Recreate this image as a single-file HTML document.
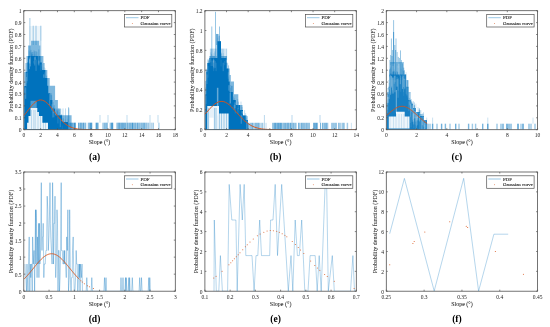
<!DOCTYPE html>
<html><head><meta charset="utf-8"><style>
html,body{margin:0;padding:0;background:#fff;width:550px;height:327px;overflow:hidden}
svg{display:block;filter:blur(0.3px)}
text{font-family:"Liberation Serif", serif}
.t{will-change:transform;filter:grayscale(1)}
</style></head><body>
<svg width="550" height="327" viewBox="0 0 550 327">
<defs><clipPath id="ca"><rect x="23.8" y="10.7" width="151.5" height="118.99999999999999"/></clipPath><clipPath id="cb"><rect x="204.9" y="10.7" width="151.4" height="118.99999999999999"/></clipPath><clipPath id="cc"><rect x="386.3" y="10.7" width="151.3" height="118.99999999999999"/></clipPath><clipPath id="cd"><rect x="23.8" y="172.0" width="151.5" height="119.19999999999999"/></clipPath><clipPath id="ce"><rect x="204.9" y="172.0" width="151.4" height="119.19999999999999"/></clipPath><clipPath id="cf"><rect x="386.3" y="172.0" width="151.3" height="119.19999999999999"/></clipPath></defs>
<rect width="550" height="327" fill="#fff"/>
<g clip-path="url(#ca)">
<rect x="29.40" y="26.00" width="12.20" height="14.70" fill="#0072bd" fill-opacity="0.07"/>
<line x1="29.90" y1="18.00" x2="29.90" y2="56.00" stroke="#0072bd" stroke-opacity="0.4" stroke-width="0.9"/>
<line x1="33.20" y1="25.70" x2="33.20" y2="45.00" stroke="#0072bd" stroke-opacity="0.4" stroke-width="0.9"/>
<line x1="36.00" y1="25.70" x2="36.00" y2="45.00" stroke="#0072bd" stroke-opacity="0.4" stroke-width="0.9"/>
<line x1="40.80" y1="25.70" x2="40.80" y2="63.00" stroke="#0072bd" stroke-opacity="0.4" stroke-width="0.9"/>
<path d="M24.30,129.70V72.00H25.50V63.00H26.50V56.00H28.10V45.60H30.90V40.70H39.30V45.60H40.30V56.00H43.40V63.00H44.60V70.00H47.30V78.00H49.70V85.70H55.10V100.00H57.90V108.40H60.60V115.30H71.60V129.70Z" fill="#0072bd" fill-opacity="0.5"/>
<path d="M24.30,129.70V86.00H25.80V72.00H27.40V62.60H28.10V56.00H40.30V62.60H42.00V70.00H45.40V78.00H47.30V85.70H48.30V93.30H50.30V100.00H52.40V108.40H55.10V115.30H62.00V122.10H68.00V129.70Z" fill="#0072bd" fill-opacity="1.0"/>
<line x1="51.00" y1="108.40" x2="51.00" y2="122.00" stroke="#0072bd" stroke-opacity="0.35" stroke-width="0.7"/>
<line x1="53.50" y1="108.40" x2="53.50" y2="122.00" stroke="#0072bd" stroke-opacity="0.35" stroke-width="0.7"/>
<line x1="56.00" y1="108.40" x2="56.00" y2="122.00" stroke="#0072bd" stroke-opacity="0.35" stroke-width="0.7"/>
<line x1="58.00" y1="108.40" x2="58.00" y2="122.00" stroke="#0072bd" stroke-opacity="0.35" stroke-width="0.7"/>
<line x1="63.00" y1="108.40" x2="63.00" y2="122.00" stroke="#0072bd" stroke-opacity="0.35" stroke-width="0.7"/>
<line x1="65.50" y1="108.40" x2="65.50" y2="122.00" stroke="#0072bd" stroke-opacity="0.35" stroke-width="0.7"/>
<line x1="68.90" y1="108.40" x2="68.90" y2="122.00" stroke="#0072bd" stroke-opacity="0.35" stroke-width="0.7"/>
<line x1="68.60" y1="107.30" x2="68.60" y2="122.70" stroke="#0072bd" stroke-opacity="0.45" stroke-width="0.9"/>
<rect x="68.00" y="122.70" width="0.62" height="7.00" fill="#0072bd" fill-opacity="0.7221146126479758"/>
<rect x="68.62" y="122.70" width="0.68" height="7.00" fill="#0072bd" fill-opacity="0.7519600192980972"/>
<rect x="69.30" y="122.70" width="0.81" height="7.00" fill="#0072bd" fill-opacity="0.4827644296199065"/>
<rect x="70.12" y="122.70" width="0.51" height="7.00" fill="#0072bd" fill-opacity="0.8687345410482299"/>
<rect x="70.62" y="122.70" width="0.63" height="7.00" fill="#0072bd" fill-opacity="0.5671654805233481"/>
<rect x="71.25" y="122.70" width="1.00" height="7.00" fill="#0072bd" fill-opacity="0.6851317537612239"/>
<rect x="72.25" y="122.70" width="0.92" height="7.00" fill="#0072bd" fill-opacity="0.6881766043496674"/>
<rect x="73.17" y="122.70" width="0.82" height="7.00" fill="#0072bd" fill-opacity="0.5253082120117619"/>
<rect x="73.99" y="122.70" width="0.82" height="7.00" fill="#0072bd" fill-opacity="0.8840226535716483"/>
<rect x="74.81" y="122.70" width="0.76" height="7.00" fill="#0072bd" fill-opacity="0.8206259281007451"/>
<rect x="75.57" y="122.70" width="0.43" height="7.00" fill="#0072bd" fill-opacity="0.4820157191134986"/>
<rect x="78.00" y="122.70" width="0.88" height="7.00" fill="#0072bd" fill-opacity="0.6455497914656587"/>
<rect x="78.88" y="122.70" width="0.65" height="7.00" fill="#0072bd" fill-opacity="0.365505875734875"/>
<rect x="79.53" y="122.70" width="0.93" height="7.00" fill="#0072bd" fill-opacity="0.5863745443327334"/>
<rect x="80.46" y="122.70" width="0.86" height="7.00" fill="#0072bd" fill-opacity="0.7894064001277408"/>
<rect x="81.32" y="122.70" width="0.48" height="7.00" fill="#0072bd" fill-opacity="0.8105493337919372"/>
<rect x="82.40" y="122.70" width="0.70" height="7.00" fill="#0072bd" fill-opacity="0.7504543854926141"/>
<rect x="83.10" y="122.70" width="0.72" height="7.00" fill="#0072bd" fill-opacity="0.8177933608522605"/>
<rect x="83.82" y="122.70" width="0.94" height="7.00" fill="#0072bd" fill-opacity="0.3987271548654386"/>
<rect x="84.76" y="122.70" width="0.57" height="7.00" fill="#0072bd" fill-opacity="0.45849347061656864"/>
<rect x="85.33" y="122.70" width="0.87" height="7.00" fill="#0072bd" fill-opacity="0.5680809333137147"/>
<rect x="87.80" y="122.70" width="0.81" height="7.00" fill="#0072bd" fill-opacity="0.5005130992127527"/>
<rect x="88.61" y="122.70" width="0.75" height="7.00" fill="#0072bd" fill-opacity="0.5429331294224513"/>
<rect x="89.37" y="122.70" width="0.68" height="7.00" fill="#0072bd" fill-opacity="0.6425370537026818"/>
<rect x="90.04" y="122.70" width="0.79" height="7.00" fill="#0072bd" fill-opacity="0.8021008854238876"/>
<rect x="90.83" y="122.70" width="0.84" height="7.00" fill="#0072bd" fill-opacity="0.8144728006000085"/>
<rect x="91.68" y="122.70" width="0.52" height="7.00" fill="#0072bd" fill-opacity="0.8454948224344075"/>
<rect x="95.40" y="122.70" width="0.84" height="7.00" fill="#0072bd" fill-opacity="0.43154981098553485"/>
<rect x="96.24" y="122.70" width="0.93" height="7.00" fill="#0072bd" fill-opacity="0.8323164736545307"/>
<rect x="97.17" y="122.70" width="0.95" height="7.00" fill="#0072bd" fill-opacity="0.6345537517371618"/>
<rect x="98.12" y="122.70" width="0.58" height="7.00" fill="#0072bd" fill-opacity="0.4555624918377991"/>
<rect x="102.50" y="122.70" width="0.92" height="7.00" fill="#0072bd" fill-opacity="0.5367661761756424"/>
<rect x="103.42" y="122.70" width="0.64" height="7.00" fill="#0072bd" fill-opacity="0.2817302885726147"/>
<rect x="104.06" y="122.70" width="0.64" height="7.00" fill="#0072bd" fill-opacity="0.7449030074607906"/>
<rect x="105.30" y="122.70" width="0.54" height="7.00" fill="#0072bd" fill-opacity="0.7502976606287509"/>
<rect x="105.84" y="122.70" width="0.71" height="7.00" fill="#0072bd" fill-opacity="0.42538268722640477"/>
<rect x="106.55" y="122.70" width="0.65" height="7.00" fill="#0072bd" fill-opacity="0.7343959436386722"/>
<rect x="107.20" y="122.70" width="0.80" height="7.00" fill="#0072bd" fill-opacity="0.37209503056477167"/>
<rect x="109.60" y="122.70" width="0.81" height="7.00" fill="#0072bd" fill-opacity="0.3724701217480181"/>
<rect x="110.41" y="122.70" width="0.86" height="7.00" fill="#0072bd" fill-opacity="0.5154770730095037"/>
<rect x="111.27" y="122.70" width="0.94" height="7.00" fill="#0072bd" fill-opacity="0.8403178784216698"/>
<rect x="112.21" y="122.70" width="0.75" height="7.00" fill="#0072bd" fill-opacity="0.8492544726878882"/>
<rect x="112.96" y="122.70" width="0.44" height="7.00" fill="#0072bd" fill-opacity="0.3884853523527059"/>
<rect x="116.20" y="122.70" width="0.80" height="7.00" fill="#0072bd" fill-opacity="0.36568888108765885"/>
<rect x="117.00" y="122.70" width="0.60" height="7.00" fill="#0072bd" fill-opacity="0.5539680678084954"/>
<rect x="117.60" y="122.70" width="0.81" height="7.00" fill="#0072bd" fill-opacity="0.42809949550678233"/>
<rect x="118.40" y="122.70" width="0.52" height="7.00" fill="#0072bd" fill-opacity="0.7838895169638611"/>
<rect x="118.93" y="122.70" width="0.66" height="7.00" fill="#0072bd" fill-opacity="0.8293297132042274"/>
<rect x="119.58" y="122.70" width="0.95" height="7.00" fill="#0072bd" fill-opacity="0.5388946197060913"/>
<rect x="120.53" y="122.70" width="0.73" height="7.00" fill="#0072bd" fill-opacity="0.610036492296282"/>
<rect x="121.26" y="122.70" width="0.82" height="7.00" fill="#0072bd" fill-opacity="0.6478251192009852"/>
<rect x="122.08" y="122.70" width="0.78" height="7.00" fill="#0072bd" fill-opacity="0.6600630677226309"/>
<rect x="122.86" y="122.70" width="0.97" height="7.00" fill="#0072bd" fill-opacity="0.6035134079728299"/>
<rect x="123.83" y="122.70" width="0.72" height="7.00" fill="#0072bd" fill-opacity="0.7101556260720692"/>
<rect x="124.55" y="122.70" width="0.62" height="7.00" fill="#0072bd" fill-opacity="0.5005434305870746"/>
<rect x="125.17" y="122.70" width="0.99" height="7.00" fill="#0072bd" fill-opacity="0.610563646640603"/>
<rect x="126.16" y="122.70" width="0.77" height="7.00" fill="#0072bd" fill-opacity="0.3557287431821095"/>
<rect x="126.93" y="122.70" width="0.71" height="7.00" fill="#0072bd" fill-opacity="0.6399826068985328"/>
<rect x="127.64" y="122.70" width="0.51" height="7.00" fill="#0072bd" fill-opacity="0.6578989706531284"/>
<rect x="128.15" y="122.70" width="0.82" height="7.00" fill="#0072bd" fill-opacity="0.3800402553138615"/>
<rect x="128.96" y="122.70" width="0.81" height="7.00" fill="#0072bd" fill-opacity="0.5831252148483539"/>
<rect x="129.78" y="122.70" width="0.84" height="7.00" fill="#0072bd" fill-opacity="0.5262884915205237"/>
<rect x="130.62" y="122.70" width="0.85" height="7.00" fill="#0072bd" fill-opacity="0.7190171446260172"/>
<rect x="131.47" y="122.70" width="0.51" height="7.00" fill="#0072bd" fill-opacity="0.38028840182289864"/>
<rect x="131.98" y="122.70" width="0.84" height="7.00" fill="#0072bd" fill-opacity="0.8316527901931287"/>
<rect x="132.82" y="122.70" width="0.63" height="7.00" fill="#0072bd" fill-opacity="0.5781560648181896"/>
<rect x="133.45" y="122.70" width="0.80" height="7.00" fill="#0072bd" fill-opacity="0.5100126928740032"/>
<rect x="134.24" y="122.70" width="0.68" height="7.00" fill="#0072bd" fill-opacity="0.5063353305984554"/>
<rect x="134.92" y="122.70" width="0.68" height="7.00" fill="#0072bd" fill-opacity="0.6478107529287682"/>
<rect x="135.61" y="122.70" width="0.65" height="7.00" fill="#0072bd" fill-opacity="0.5385801706644584"/>
<rect x="136.26" y="122.70" width="0.89" height="7.00" fill="#0072bd" fill-opacity="0.363460602504665"/>
<rect x="137.14" y="122.70" width="0.78" height="7.00" fill="#0072bd" fill-opacity="0.7175865908392547"/>
<rect x="137.93" y="122.70" width="0.66" height="7.00" fill="#0072bd" fill-opacity="0.4612689213965955"/>
<rect x="138.58" y="122.70" width="0.90" height="7.00" fill="#0072bd" fill-opacity="0.46934758844892094"/>
<rect x="139.49" y="122.70" width="0.59" height="7.00" fill="#0072bd" fill-opacity="0.5676171602664104"/>
<rect x="140.08" y="122.70" width="0.85" height="7.00" fill="#0072bd" fill-opacity="0.4009208463159357"/>
<rect x="140.93" y="122.70" width="0.66" height="7.00" fill="#0072bd" fill-opacity="0.5168768252243376"/>
<rect x="141.59" y="122.70" width="0.92" height="7.00" fill="#0072bd" fill-opacity="0.5692153662806935"/>
<rect x="142.51" y="122.70" width="0.93" height="7.00" fill="#0072bd" fill-opacity="0.43464211627821747"/>
<rect x="143.43" y="122.70" width="0.67" height="7.00" fill="#0072bd" fill-opacity="0.6751161881462474"/>
<rect x="144.10" y="122.70" width="0.94" height="7.00" fill="#0072bd" fill-opacity="0.5755510921426112"/>
<rect x="145.04" y="122.70" width="0.61" height="7.00" fill="#0072bd" fill-opacity="0.4104596623551432"/>
<rect x="145.66" y="122.70" width="0.74" height="7.00" fill="#0072bd" fill-opacity="0.44540190292574794"/>
<rect x="146.40" y="122.70" width="0.90" height="7.00" fill="#0072bd" fill-opacity="0.5192381895141127"/>
<rect x="147.30" y="122.70" width="0.59" height="7.00" fill="#0072bd" fill-opacity="0.23929607100825628"/>
<rect x="147.90" y="122.70" width="0.90" height="7.00" fill="#0072bd" fill-opacity="0.42096862824832654"/>
<rect x="148.80" y="122.70" width="0.90" height="7.00" fill="#0072bd" fill-opacity="0.27264140244379914"/>
<rect x="149.70" y="122.70" width="0.56" height="7.00" fill="#0072bd" fill-opacity="0.24597144543527666"/>
<rect x="150.27" y="122.70" width="0.90" height="7.00" fill="#0072bd" fill-opacity="0.23558724695712618"/>
<rect x="151.16" y="122.70" width="0.67" height="7.00" fill="#0072bd" fill-opacity="0.30845284793674477"/>
<rect x="151.84" y="122.70" width="0.71" height="7.00" fill="#0072bd" fill-opacity="0.3047610582245299"/>
<rect x="152.55" y="122.70" width="0.96" height="7.00" fill="#0072bd" fill-opacity="0.17799892946917956"/>
<rect x="153.51" y="122.70" width="0.49" height="7.00" fill="#0072bd" fill-opacity="0.5716339179595544"/>
<rect x="158.60" y="122.70" width="0.70" height="7.00" fill="#0072bd" fill-opacity="0.6434568275143979"/>
<line x1="100.00" y1="115.00" x2="100.00" y2="122.70" stroke="#0072bd" stroke-opacity="0.35" stroke-width="0.7"/>
<line x1="108.00" y1="115.00" x2="108.00" y2="122.70" stroke="#0072bd" stroke-opacity="0.35" stroke-width="0.7"/>
<line x1="127.00" y1="115.00" x2="127.00" y2="122.70" stroke="#0072bd" stroke-opacity="0.35" stroke-width="0.7"/>
<line x1="150.00" y1="115.00" x2="150.00" y2="122.70" stroke="#0072bd" stroke-opacity="0.35" stroke-width="0.7"/>
<line x1="158.00" y1="115.00" x2="158.00" y2="122.70" stroke="#0072bd" stroke-opacity="0.35" stroke-width="0.7"/>
<line x1="49.70" y1="93.87" x2="49.70" y2="105.52" stroke="#ffffff" stroke-opacity="0.38099410041919857" stroke-width="0.5868554712787897"/>
<line x1="53.29" y1="109.08" x2="53.29" y2="113.30" stroke="#ffffff" stroke-opacity="0.22213060834531403" stroke-width="0.676969098398127"/>
<line x1="33.58" y1="60.84" x2="33.58" y2="63.54" stroke="#ffffff" stroke-opacity="0.19832165718277275" stroke-width="0.43554542793396633"/>
<line x1="57.94" y1="116.82" x2="57.94" y2="123.53" stroke="#ffffff" stroke-opacity="0.23150706670958607" stroke-width="0.6549707674717753"/>
<line x1="41.95" y1="63.25" x2="41.95" y2="69.55" stroke="#ffffff" stroke-opacity="0.22607245298428041" stroke-width="0.4443196584352189"/>
<line x1="60.28" y1="118.54" x2="60.28" y2="127.19" stroke="#ffffff" stroke-opacity="0.37061164168141514" stroke-width="0.5578571730324839"/>
<line x1="40.87" y1="64.43" x2="40.87" y2="70.47" stroke="#ffffff" stroke-opacity="0.3172337919817037" stroke-width="0.4026074405665062"/>
<line x1="44.58" y1="72.44" x2="44.58" y2="77.90" stroke="#ffffff" stroke-opacity="0.15546654010360023" stroke-width="0.6818381677854433"/>
<line x1="24.71" y1="88.60" x2="24.71" y2="92.14" stroke="#ffffff" stroke-opacity="0.15864557070990667" stroke-width="0.4723367788724418"/>
<line x1="27.17" y1="72.33" x2="27.17" y2="81.18" stroke="#ffffff" stroke-opacity="0.3320690926688246" stroke-width="0.5451137480032918"/>
<line x1="52.81" y1="110.51" x2="52.81" y2="117.50" stroke="#ffffff" stroke-opacity="0.36897521896369057" stroke-width="0.5245176490194977"/>
<line x1="62.32" y1="125.40" x2="62.32" y2="129.40" stroke="#ffffff" stroke-opacity="0.15148693090990492" stroke-width="0.4336245359955684"/>
<line x1="25.70" y1="87.40" x2="25.70" y2="98.86" stroke="#ffffff" stroke-opacity="0.3689267695737404" stroke-width="0.7354302549875485"/>
<line x1="29.49" y1="59.38" x2="29.49" y2="69.13" stroke="#ffffff" stroke-opacity="0.3523142100509651" stroke-width="0.7168936688828239"/>
<line x1="30.43" y1="56.48" x2="30.43" y2="66.41" stroke="#ffffff" stroke-opacity="0.3345541595163188" stroke-width="0.7569797651390305"/>
<line x1="43.81" y1="74.39" x2="43.81" y2="77.79" stroke="#ffffff" stroke-opacity="0.38928087046367255" stroke-width="0.7537899980304732"/>
<line x1="39.05" y1="55.87" x2="39.05" y2="63.36" stroke="#ffffff" stroke-opacity="0.32230137251049235" stroke-width="0.5401498450726719"/>
<line x1="26.81" y1="73.03" x2="26.81" y2="83.28" stroke="#ffffff" stroke-opacity="0.17265725523254952" stroke-width="0.7749037955821882"/>
<line x1="35.23" y1="56.62" x2="35.23" y2="59.75" stroke="#ffffff" stroke-opacity="0.3952578429137531" stroke-width="0.7604201494435335"/>
<line x1="38.25" y1="56.03" x2="38.25" y2="64.56" stroke="#ffffff" stroke-opacity="0.3718936796785237" stroke-width="0.4048444778148666"/>
<line x1="51.96" y1="104.21" x2="51.96" y2="110.80" stroke="#ffffff" stroke-opacity="0.2923437652074882" stroke-width="0.7217074612870091"/>
<line x1="34.72" y1="57.00" x2="34.72" y2="65.61" stroke="#ffffff" stroke-opacity="0.2880842711648378" stroke-width="0.6141389289956171"/>
<line x1="38.91" y1="60.65" x2="38.91" y2="65.53" stroke="#ffffff" stroke-opacity="0.3197213619283229" stroke-width="0.7576640468932428"/>
<line x1="41.81" y1="62.40" x2="41.81" y2="66.60" stroke="#ffffff" stroke-opacity="0.1665729638489848" stroke-width="0.45925045807637394"/>
<line x1="29.56" y1="57.38" x2="29.56" y2="63.08" stroke="#ffffff" stroke-opacity="0.26184585813467154" stroke-width="0.6660375779938728"/>
<line x1="53.87" y1="111.68" x2="53.87" y2="117.32" stroke="#ffffff" stroke-opacity="0.3157152876749847" stroke-width="0.6199222123888853"/>
<line x1="29.87" y1="58.50" x2="29.87" y2="63.69" stroke="#ffffff" stroke-opacity="0.31897581201255787" stroke-width="0.6939098753200865"/>
<line x1="34.82" y1="57.89" x2="34.82" y2="64.44" stroke="#ffffff" stroke-opacity="0.22422342477618337" stroke-width="0.4162023402633588"/>
<line x1="26.47" y1="76.96" x2="26.47" y2="86.36" stroke="#ffffff" stroke-opacity="0.2596903596790838" stroke-width="0.6666658730853339"/>
<line x1="36.05" y1="59.41" x2="36.05" y2="70.92" stroke="#ffffff" stroke-opacity="0.34330379720750615" stroke-width="0.5860637008391852"/>
<line x1="67.28" y1="115.57" x2="67.28" y2="122.10" stroke="#0072bd" stroke-opacity="0.2645614892490993" stroke-width="0.6235452382135155"/>
<line x1="44.06" y1="67.36" x2="44.06" y2="70.00" stroke="#0072bd" stroke-opacity="0.40411338015349474" stroke-width="0.5430348086820456"/>
<line x1="56.95" y1="109.15" x2="56.95" y2="115.30" stroke="#0072bd" stroke-opacity="0.2653954122878708" stroke-width="0.7076330494956268"/>
<line x1="35.92" y1="51.17" x2="35.92" y2="56.00" stroke="#0072bd" stroke-opacity="0.4228017611170537" stroke-width="0.7930051087394603"/>
<line x1="59.18" y1="112.27" x2="59.18" y2="115.30" stroke="#0072bd" stroke-opacity="0.43250844268605093" stroke-width="0.5440406392579359"/>
<line x1="55.49" y1="111.80" x2="55.49" y2="115.30" stroke="#0072bd" stroke-opacity="0.3162949234366307" stroke-width="0.5715525754325158"/>
<line x1="33.77" y1="50.22" x2="33.77" y2="56.00" stroke="#0072bd" stroke-opacity="0.2740246466945539" stroke-width="0.5697016397123074"/>
<line x1="32.70" y1="54.05" x2="32.70" y2="56.00" stroke="#0072bd" stroke-opacity="0.43249960973141766" stroke-width="0.6762001412710258"/>
<line x1="53.35" y1="102.00" x2="53.35" y2="108.40" stroke="#0072bd" stroke-opacity="0.36218300301018796" stroke-width="0.5113445460475302"/>
<line x1="32.57" y1="51.90" x2="32.57" y2="56.00" stroke="#0072bd" stroke-opacity="0.4288259647683056" stroke-width="0.7755594671146748"/>
<line x1="46.64" y1="75.64" x2="46.64" y2="78.00" stroke="#0072bd" stroke-opacity="0.3981671622535279" stroke-width="0.7804210901536385"/>
<line x1="38.85" y1="49.41" x2="38.85" y2="56.00" stroke="#0072bd" stroke-opacity="0.47595254169427387" stroke-width="0.6730663619781359"/>
<line x1="45.32" y1="68.23" x2="45.32" y2="70.00" stroke="#0072bd" stroke-opacity="0.27762145174352426" stroke-width="0.5122785235532046"/>
<line x1="51.02" y1="94.72" x2="51.02" y2="100.00" stroke="#0072bd" stroke-opacity="0.4983436681576615" stroke-width="0.6807457151069656"/>
<line x1="67.73" y1="118.68" x2="67.73" y2="122.10" stroke="#0072bd" stroke-opacity="0.2834779744968273" stroke-width="0.517875577769641"/>
<line x1="36.90" y1="51.82" x2="36.90" y2="56.00" stroke="#0072bd" stroke-opacity="0.4965516759013697" stroke-width="0.5891679561620015"/>
<line x1="34.58" y1="50.66" x2="34.58" y2="56.00" stroke="#0072bd" stroke-opacity="0.34710484679002107" stroke-width="0.6675162785776251"/>
<line x1="30.92" y1="49.88" x2="30.92" y2="56.00" stroke="#0072bd" stroke-opacity="0.4798411050971281" stroke-width="0.726533791516175"/>
<line x1="65.19" y1="119.10" x2="65.19" y2="122.10" stroke="#0072bd" stroke-opacity="0.2581051518025752" stroke-width="0.5914720119296663"/>
<line x1="63.53" y1="118.28" x2="63.53" y2="122.10" stroke="#0072bd" stroke-opacity="0.3000968944429887" stroke-width="0.5453535428604968"/>
<line x1="31.48" y1="52.37" x2="31.48" y2="56.00" stroke="#0072bd" stroke-opacity="0.48143251276335" stroke-width="0.7651689595142513"/>
<line x1="57.41" y1="109.76" x2="57.41" y2="115.30" stroke="#0072bd" stroke-opacity="0.2977151522956967" stroke-width="0.7332559780146379"/>
<line x1="34.09" y1="51.85" x2="34.09" y2="56.00" stroke="#0072bd" stroke-opacity="0.2583709745781039" stroke-width="0.7677173377017668"/>
<line x1="29.91" y1="51.44" x2="29.91" y2="56.00" stroke="#0072bd" stroke-opacity="0.41555418208762573" stroke-width="0.6931901118501667"/>
<line x1="54.12" y1="105.18" x2="54.12" y2="108.40" stroke="#0072bd" stroke-opacity="0.4480647312496485" stroke-width="0.78153853071804"/>
<line x1="51.27" y1="93.12" x2="51.27" y2="100.00" stroke="#0072bd" stroke-opacity="0.4624606165665831" stroke-width="0.5166600796281527"/>
<line x1="53.65" y1="106.85" x2="53.65" y2="108.40" stroke="#0072bd" stroke-opacity="0.4153162427638556" stroke-width="0.6113930400067743"/>
<line x1="61.64" y1="114.03" x2="61.64" y2="115.30" stroke="#0072bd" stroke-opacity="0.4866237926935649" stroke-width="0.5130421460136272"/>
<line x1="26.78" y1="70.98" x2="26.78" y2="72.00" stroke="#0072bd" stroke-opacity="0.28136688561902035" stroke-width="0.7958446153807679"/>
<line x1="60.80" y1="108.80" x2="60.80" y2="115.30" stroke="#0072bd" stroke-opacity="0.2965849776209584" stroke-width="0.7063028588766952"/>
<line x1="59.05" y1="109.94" x2="59.05" y2="115.30" stroke="#0072bd" stroke-opacity="0.3174128204005779" stroke-width="0.7912585306645532"/>
<line x1="56.13" y1="110.19" x2="56.13" y2="115.30" stroke="#0072bd" stroke-opacity="0.3211358410374643" stroke-width="0.619201188843156"/>
<line x1="57.42" y1="111.20" x2="57.42" y2="115.30" stroke="#0072bd" stroke-opacity="0.37198184485961167" stroke-width="0.7759137725037318"/>
<line x1="42.67" y1="63.85" x2="42.67" y2="70.00" stroke="#0072bd" stroke-opacity="0.26168860132593497" stroke-width="0.6591361003533243"/>
<line x1="55.46" y1="114.24" x2="55.46" y2="115.30" stroke="#0072bd" stroke-opacity="0.4240835485791869" stroke-width="0.5858072000523623"/>
<line x1="51.64" y1="95.26" x2="51.64" y2="100.00" stroke="#0072bd" stroke-opacity="0.2841069220843735" stroke-width="0.7831313494144989"/>
<line x1="34.90" y1="54.18" x2="34.90" y2="56.00" stroke="#0072bd" stroke-opacity="0.36067390952772904" stroke-width="0.5191900083167739"/>
<line x1="28.73" y1="50.43" x2="28.73" y2="56.00" stroke="#0072bd" stroke-opacity="0.2743836808903099" stroke-width="0.6623891280470254"/>
<line x1="62.99" y1="118.38" x2="62.99" y2="122.10" stroke="#0072bd" stroke-opacity="0.45361418900217576" stroke-width="0.7490855650206321"/>
<line x1="31.49" y1="54.54" x2="31.49" y2="56.00" stroke="#0072bd" stroke-opacity="0.4460531291248051" stroke-width="0.7599074633919173"/>
<path d="M30.50,100.70 L36.70,100.70 L36.70,108.00 L30.50,108.00Z" fill="#ffffff" fill-opacity="0.3"/>
<path d="M30.50,108.00 L37.30,108.00 L37.30,112.00 L39.00,112.00 L39.00,116.00 L42.40,116.00 L42.40,122.70 L48.00,122.70 L48.00,129.30 L27.10,129.30 L27.10,122.70 L28.50,122.70 L28.50,116.00 L30.50,116.00Z" fill="#ffffff" fill-opacity="0.92"/>
<line x1="31.50" y1="110.00" x2="31.50" y2="129.30" stroke="#0072bd" stroke-opacity="0.35" stroke-width="0.6"/>
<line x1="33.80" y1="110.00" x2="33.80" y2="129.30" stroke="#0072bd" stroke-opacity="0.35" stroke-width="0.6"/>
<line x1="35.20" y1="110.00" x2="35.20" y2="129.30" stroke="#0072bd" stroke-opacity="0.35" stroke-width="0.6"/>
<line x1="38.00" y1="110.00" x2="38.00" y2="129.30" stroke="#0072bd" stroke-opacity="0.35" stroke-width="0.6"/>
<line x1="40.50" y1="110.00" x2="40.50" y2="129.30" stroke="#0072bd" stroke-opacity="0.35" stroke-width="0.6"/>
<line x1="43.50" y1="110.00" x2="43.50" y2="129.30" stroke="#0072bd" stroke-opacity="0.35" stroke-width="0.6"/>
<line x1="45.50" y1="110.00" x2="45.50" y2="129.30" stroke="#0072bd" stroke-opacity="0.35" stroke-width="0.6"/>
<polyline points="23.80,115.82 25.48,113.65 27.17,111.43 28.85,109.22 30.53,107.09 32.22,105.11 33.90,103.37 35.58,101.92 37.27,100.84 38.95,100.18 40.63,99.95 42.32,100.18 44.00,100.84 45.68,101.92 47.37,103.37 49.05,105.11 50.73,107.09 52.42,109.22 54.10,111.43 55.78,113.65 57.47,115.82 59.15,117.87 60.83,119.77 62.52,121.49 64.20,123.02 65.88,124.34 67.57,125.47 69.25,126.41 70.93,127.18 72.62,127.80 74.30,128.29 75.98,128.67 77.67,128.96 79.35,129.17 81.03,129.33 82.72,129.45 84.40,129.53 86.08,129.58 87.77,129.62 89.45,129.65 91.13,129.67 92.82,129.68 94.50,129.69 96.18,129.69 97.87,129.70 99.55,129.70 101.23,129.70 102.92,129.70 104.60,129.70 106.28,129.70 107.97,129.70 109.65,129.70 111.33,129.70 113.02,129.70 114.70,129.70 116.38,129.70 118.07,129.70 119.75,129.70 121.43,129.70 123.12,129.70 124.80,129.70 126.48,129.70 128.17,129.70 129.85,129.70 131.53,129.70 133.22,129.70 134.90,129.70 136.58,129.70 138.27,129.70 139.95,129.70 141.63,129.70 143.32,129.70 145.00,129.70 146.68,129.70 148.37,129.70 150.05,129.70 151.73,129.70 153.42,129.70 155.10,129.70 156.78,129.70 158.47,129.70" fill="none" stroke="#d95319" stroke-opacity="1.0" stroke-width="0.95"/>
</g>
<rect x="124.40" y="14.50" width="47.40" height="12.50" fill="#fff" stroke="#505050" stroke-width="0.7"/>
<line x1="126.00" y1="17.70" x2="138.50" y2="17.70" stroke="#0072bd" stroke-opacity="0.5" stroke-width="0.8"/>
<circle cx="132.30" cy="23.50" r="0.45" fill="#d95319"/>
<path d="M23.80,129.70v-1.5M23.80,10.70v1.5M40.63,129.70v-1.5M40.63,10.70v1.5M57.47,129.70v-1.5M57.47,10.70v1.5M74.30,129.70v-1.5M74.30,10.70v1.5M91.13,129.70v-1.5M91.13,10.70v1.5M107.97,129.70v-1.5M107.97,10.70v1.5M124.80,129.70v-1.5M124.80,10.70v1.5M141.63,129.70v-1.5M141.63,10.70v1.5M158.47,129.70v-1.5M158.47,10.70v1.5M175.30,129.70v-1.5M175.30,10.70v1.5M23.80,129.70h1.5M175.30,129.70h-1.5M23.80,117.80h1.5M175.30,117.80h-1.5M23.80,105.90h1.5M175.30,105.90h-1.5M23.80,94.00h1.5M175.30,94.00h-1.5M23.80,82.10h1.5M175.30,82.10h-1.5M23.80,70.20h1.5M175.30,70.20h-1.5M23.80,58.30h1.5M175.30,58.30h-1.5M23.80,46.40h1.5M175.30,46.40h-1.5M23.80,34.50h1.5M175.30,34.50h-1.5M23.80,22.60h1.5M175.30,22.60h-1.5M23.80,10.70h1.5M175.30,10.70h-1.5" stroke="#505050" stroke-width="0.7" fill="none"/>
<rect x="23.80" y="10.70" width="151.50" height="119.00" fill="none" stroke="#505050" stroke-width="0.8"/>
<g clip-path="url(#cb)">
<line x1="215.50" y1="11.80" x2="215.50" y2="56.00" stroke="#0072bd" stroke-opacity="0.45" stroke-width="0.9"/>
<line x1="211.80" y1="26.50" x2="211.80" y2="56.00" stroke="#0072bd" stroke-opacity="0.45" stroke-width="0.9"/>
<line x1="219.50" y1="26.50" x2="219.50" y2="56.00" stroke="#0072bd" stroke-opacity="0.45" stroke-width="0.9"/>
<line x1="216.80" y1="33.90" x2="216.80" y2="45.00" stroke="#0072bd" stroke-opacity="0.6" stroke-width="0.9"/>
<line x1="210.40" y1="48.60" x2="210.40" y2="60.00" stroke="#0072bd" stroke-opacity="0.4" stroke-width="0.8"/>
<line x1="211.50" y1="48.60" x2="211.50" y2="60.00" stroke="#0072bd" stroke-opacity="0.4" stroke-width="0.8"/>
<line x1="212.60" y1="48.60" x2="212.60" y2="60.00" stroke="#0072bd" stroke-opacity="0.4" stroke-width="0.8"/>
<line x1="213.80" y1="48.60" x2="213.80" y2="60.00" stroke="#0072bd" stroke-opacity="0.4" stroke-width="0.8"/>
<line x1="215.00" y1="48.60" x2="215.00" y2="60.00" stroke="#0072bd" stroke-opacity="0.4" stroke-width="0.8"/>
<line x1="216.00" y1="48.60" x2="216.00" y2="60.00" stroke="#0072bd" stroke-opacity="0.4" stroke-width="0.8"/>
<line x1="221.40" y1="48.60" x2="221.40" y2="60.00" stroke="#0072bd" stroke-opacity="0.4" stroke-width="0.8"/>
<line x1="222.50" y1="48.60" x2="222.50" y2="60.00" stroke="#0072bd" stroke-opacity="0.4" stroke-width="0.8"/>
<line x1="223.60" y1="48.60" x2="223.60" y2="60.00" stroke="#0072bd" stroke-opacity="0.4" stroke-width="0.8"/>
<line x1="225.00" y1="48.60" x2="225.00" y2="60.00" stroke="#0072bd" stroke-opacity="0.4" stroke-width="0.8"/>
<line x1="226.60" y1="48.60" x2="226.60" y2="60.00" stroke="#0072bd" stroke-opacity="0.4" stroke-width="0.8"/>
<path d="M205.40,129.70V81.00H206.20V70.00H207.60V63.00H209.40V56.00H216.40V33.90H218.60V41.30H221.00V56.00H226.90V68.50H229.70V75.00H230.80V81.40H234.00V94.20H238.30V104.90H242.50V115.60H247.00V129.70Z" fill="#0072bd" fill-opacity="0.5"/>
<path d="M205.40,129.70V94.20H206.20V72.00H207.30V63.00H209.40V58.00H217.30V41.30H221.00V58.00H226.50V68.50H228.60V81.40H229.70V92.00H232.90V100.00H236.00V104.90H240.00V110.00H243.00V115.60H245.70V120.00H248.00V129.70Z" fill="#0072bd" fill-opacity="1.0"/>
<rect x="245.00" y="122.80" width="0.81" height="6.90" fill="#0072bd" fill-opacity="0.6708934946303647"/>
<rect x="245.81" y="122.80" width="0.90" height="6.90" fill="#0072bd" fill-opacity="0.7712251418885252"/>
<rect x="246.71" y="122.80" width="0.87" height="6.90" fill="#0072bd" fill-opacity="0.7611624983327085"/>
<rect x="247.58" y="122.80" width="0.51" height="6.90" fill="#0072bd" fill-opacity="0.5328113271890527"/>
<rect x="248.09" y="122.80" width="0.97" height="6.90" fill="#0072bd" fill-opacity="0.6244872765684621"/>
<rect x="249.07" y="122.80" width="0.95" height="6.90" fill="#0072bd" fill-opacity="0.3566029823265722"/>
<rect x="250.02" y="122.80" width="0.73" height="6.90" fill="#0072bd" fill-opacity="0.4232864163099152"/>
<rect x="250.75" y="122.80" width="0.77" height="6.90" fill="#0072bd" fill-opacity="0.5869705939640504"/>
<rect x="251.52" y="122.80" width="0.51" height="6.90" fill="#0072bd" fill-opacity="0.4083649002319241"/>
<rect x="252.03" y="122.80" width="0.64" height="6.90" fill="#0072bd" fill-opacity="0.758172685904276"/>
<rect x="252.67" y="122.80" width="0.88" height="6.90" fill="#0072bd" fill-opacity="0.37980210617901916"/>
<rect x="253.55" y="122.80" width="0.90" height="6.90" fill="#0072bd" fill-opacity="0.3693837091994516"/>
<rect x="254.45" y="122.80" width="0.81" height="6.90" fill="#0072bd" fill-opacity="0.3633496162751349"/>
<rect x="255.26" y="122.80" width="0.50" height="6.90" fill="#0072bd" fill-opacity="0.7357023723621411"/>
<rect x="255.76" y="122.80" width="0.60" height="6.90" fill="#0072bd" fill-opacity="0.4077405846123662"/>
<rect x="256.36" y="122.80" width="0.14" height="6.90" fill="#0072bd" fill-opacity="0.736203882718401"/>
<rect x="256.50" y="122.80" width="0.64" height="6.90" fill="#0072bd" fill-opacity="0.6307389944750418"/>
<rect x="257.14" y="122.80" width="0.77" height="6.90" fill="#0072bd" fill-opacity="0.4889152386252962"/>
<rect x="257.91" y="122.80" width="0.60" height="6.90" fill="#0072bd" fill-opacity="0.6204880005439996"/>
<rect x="258.52" y="122.80" width="0.85" height="6.90" fill="#0072bd" fill-opacity="0.6332821561585977"/>
<rect x="259.36" y="122.80" width="0.95" height="6.90" fill="#0072bd" fill-opacity="0.2993944489269339"/>
<rect x="260.31" y="122.80" width="0.68" height="6.90" fill="#0072bd" fill-opacity="0.23297802856487282"/>
<rect x="260.99" y="122.80" width="0.57" height="6.90" fill="#0072bd" fill-opacity="0.18256985668783815"/>
<rect x="261.56" y="122.80" width="0.65" height="6.90" fill="#0072bd" fill-opacity="0.4515549987038272"/>
<rect x="262.21" y="122.80" width="0.50" height="6.90" fill="#0072bd" fill-opacity="0.48896712477384563"/>
<rect x="262.71" y="122.80" width="0.29" height="6.90" fill="#0072bd" fill-opacity="0.3049789658015644"/>
<rect x="263.50" y="122.80" width="0.91" height="6.90" fill="#0072bd" fill-opacity="0.29037259331501947"/>
<rect x="264.41" y="122.80" width="0.66" height="6.90" fill="#0072bd" fill-opacity="0.2906091931184319"/>
<rect x="265.07" y="122.80" width="0.85" height="6.90" fill="#0072bd" fill-opacity="0.1"/>
<rect x="265.92" y="122.80" width="0.99" height="6.90" fill="#0072bd" fill-opacity="0.1"/>
<rect x="266.91" y="122.80" width="0.09" height="6.90" fill="#0072bd" fill-opacity="0.4724404446940648"/>
<rect x="272.40" y="122.80" width="0.51" height="6.90" fill="#0072bd" fill-opacity="0.6938691519902171"/>
<rect x="272.91" y="122.80" width="0.68" height="6.90" fill="#0072bd" fill-opacity="0.5892594145284373"/>
<rect x="273.59" y="122.80" width="0.50" height="6.90" fill="#0072bd" fill-opacity="0.3233635593494708"/>
<rect x="274.10" y="122.80" width="0.59" height="6.90" fill="#0072bd" fill-opacity="0.7775899497955832"/>
<rect x="274.69" y="122.80" width="0.60" height="6.90" fill="#0072bd" fill-opacity="0.6778682062256589"/>
<rect x="275.29" y="122.80" width="0.96" height="6.90" fill="#0072bd" fill-opacity="0.7710219147138497"/>
<rect x="276.25" y="122.80" width="0.67" height="6.90" fill="#0072bd" fill-opacity="0.47739660252895616"/>
<rect x="276.92" y="122.80" width="0.76" height="6.90" fill="#0072bd" fill-opacity="0.6878015073494976"/>
<rect x="277.68" y="122.80" width="0.55" height="6.90" fill="#0072bd" fill-opacity="0.6741990282423316"/>
<rect x="278.24" y="122.80" width="0.90" height="6.90" fill="#0072bd" fill-opacity="0.7298471595937901"/>
<rect x="279.14" y="122.80" width="0.52" height="6.90" fill="#0072bd" fill-opacity="0.7729000925210919"/>
<rect x="279.66" y="122.80" width="0.55" height="6.90" fill="#0072bd" fill-opacity="0.47037026775211116"/>
<rect x="280.20" y="122.80" width="0.81" height="6.90" fill="#0072bd" fill-opacity="0.7590435927666561"/>
<rect x="281.01" y="122.80" width="0.67" height="6.90" fill="#0072bd" fill-opacity="0.7620988097138954"/>
<rect x="281.68" y="122.80" width="0.77" height="6.90" fill="#0072bd" fill-opacity="0.4562251846714535"/>
<rect x="282.45" y="122.80" width="0.66" height="6.90" fill="#0072bd" fill-opacity="0.3887388877524943"/>
<rect x="283.11" y="122.80" width="0.54" height="6.90" fill="#0072bd" fill-opacity="0.3744340223116243"/>
<rect x="283.65" y="122.80" width="0.84" height="6.90" fill="#0072bd" fill-opacity="0.798363407268352"/>
<rect x="284.49" y="122.80" width="0.58" height="6.90" fill="#0072bd" fill-opacity="0.3242760817742282"/>
<rect x="285.07" y="122.80" width="0.99" height="6.90" fill="#0072bd" fill-opacity="0.5667653706804172"/>
<rect x="286.07" y="122.80" width="0.70" height="6.90" fill="#0072bd" fill-opacity="0.4186683019271437"/>
<rect x="286.77" y="122.80" width="0.80" height="6.90" fill="#0072bd" fill-opacity="0.7131477558993133"/>
<rect x="287.57" y="122.80" width="0.73" height="6.90" fill="#0072bd" fill-opacity="0.5108786409557947"/>
<rect x="288.29" y="122.80" width="0.53" height="6.90" fill="#0072bd" fill-opacity="0.7580346742209956"/>
<rect x="288.82" y="122.80" width="0.52" height="6.90" fill="#0072bd" fill-opacity="0.5467820992104162"/>
<rect x="289.34" y="122.80" width="0.92" height="6.90" fill="#0072bd" fill-opacity="0.36528591357656004"/>
<rect x="290.26" y="122.80" width="0.87" height="6.90" fill="#0072bd" fill-opacity="0.7748992813109494"/>
<rect x="291.12" y="122.80" width="0.28" height="6.90" fill="#0072bd" fill-opacity="0.6940047748901785"/>
<rect x="291.40" y="122.80" width="0.55" height="6.90" fill="#0072bd" fill-opacity="0.3672775953002186"/>
<rect x="291.95" y="122.80" width="0.57" height="6.90" fill="#0072bd" fill-opacity="0.5723669485026814"/>
<rect x="292.53" y="122.80" width="0.65" height="6.90" fill="#0072bd" fill-opacity="0.3765774567499881"/>
<rect x="293.18" y="122.80" width="1.00" height="6.90" fill="#0072bd" fill-opacity="0.5761263354468715"/>
<rect x="294.17" y="122.80" width="0.99" height="6.90" fill="#0072bd" fill-opacity="0.3767699947958117"/>
<rect x="295.16" y="122.80" width="0.74" height="6.90" fill="#0072bd" fill-opacity="0.5147525098834271"/>
<rect x="295.91" y="122.80" width="0.74" height="6.90" fill="#0072bd" fill-opacity="0.2955113085734875"/>
<rect x="296.65" y="122.80" width="0.35" height="6.90" fill="#0072bd" fill-opacity="0.22325318125099075"/>
<rect x="298.00" y="122.80" width="0.69" height="6.90" fill="#0072bd" fill-opacity="0.6441938502034241"/>
<rect x="298.69" y="122.80" width="0.98" height="6.90" fill="#0072bd" fill-opacity="0.46348248547741955"/>
<rect x="299.67" y="122.80" width="0.75" height="6.90" fill="#0072bd" fill-opacity="0.3192393801365804"/>
<rect x="300.42" y="122.80" width="0.54" height="6.90" fill="#0072bd" fill-opacity="0.28615506706825966"/>
<rect x="300.96" y="122.80" width="0.89" height="6.90" fill="#0072bd" fill-opacity="0.583693403388651"/>
<rect x="301.85" y="122.80" width="0.68" height="6.90" fill="#0072bd" fill-opacity="0.5430112898169152"/>
<rect x="302.53" y="122.80" width="0.89" height="6.90" fill="#0072bd" fill-opacity="0.49729837472544725"/>
<rect x="303.42" y="122.80" width="0.83" height="6.90" fill="#0072bd" fill-opacity="0.5298193682197447"/>
<rect x="304.25" y="122.80" width="0.68" height="6.90" fill="#0072bd" fill-opacity="0.5022347870033516"/>
<rect x="304.94" y="122.80" width="0.64" height="6.90" fill="#0072bd" fill-opacity="0.3928426119121106"/>
<rect x="305.58" y="122.80" width="0.88" height="6.90" fill="#0072bd" fill-opacity="0.4954414781778503"/>
<rect x="306.46" y="122.80" width="0.65" height="6.90" fill="#0072bd" fill-opacity="0.622773776725208"/>
<rect x="307.11" y="122.80" width="0.82" height="6.90" fill="#0072bd" fill-opacity="0.4403304131769463"/>
<rect x="307.93" y="122.80" width="0.51" height="6.90" fill="#0072bd" fill-opacity="0.4234954460476228"/>
<rect x="308.44" y="122.80" width="0.63" height="6.90" fill="#0072bd" fill-opacity="0.48582146195204967"/>
<rect x="309.06" y="122.80" width="0.73" height="6.90" fill="#0072bd" fill-opacity="0.5583398338420285"/>
<rect x="309.80" y="122.80" width="0.00" height="6.90" fill="#0072bd" fill-opacity="0.5488129733375111"/>
<rect x="313.10" y="122.80" width="0.67" height="6.90" fill="#0072bd" fill-opacity="0.6220315364956179"/>
<rect x="313.77" y="122.80" width="0.87" height="6.90" fill="#0072bd" fill-opacity="0.7140943341272661"/>
<rect x="314.64" y="122.80" width="0.68" height="6.90" fill="#0072bd" fill-opacity="0.7214397936033943"/>
<rect x="315.32" y="122.80" width="0.93" height="6.90" fill="#0072bd" fill-opacity="0.6441684784359636"/>
<rect x="316.25" y="122.80" width="0.99" height="6.90" fill="#0072bd" fill-opacity="0.7782582384882095"/>
<rect x="317.24" y="122.80" width="0.56" height="6.90" fill="#0072bd" fill-opacity="0.564670040384698"/>
<rect x="320.20" y="122.80" width="0.58" height="6.90" fill="#0072bd" fill-opacity="0.7683101406769042"/>
<rect x="320.78" y="122.80" width="0.32" height="6.90" fill="#0072bd" fill-opacity="0.5886194664346359"/>
<rect x="322.10" y="122.80" width="0.85" height="6.90" fill="#0072bd" fill-opacity="0.6098432379620459"/>
<rect x="322.95" y="122.80" width="0.87" height="6.90" fill="#0072bd" fill-opacity="0.33591337731771337"/>
<rect x="323.81" y="122.80" width="0.89" height="6.90" fill="#0072bd" fill-opacity="0.5404226501153975"/>
<rect x="324.70" y="122.80" width="0.83" height="6.90" fill="#0072bd" fill-opacity="0.4603960152814764"/>
<rect x="325.53" y="122.80" width="0.81" height="6.90" fill="#0072bd" fill-opacity="0.6373523729560082"/>
<rect x="326.35" y="122.80" width="0.82" height="6.90" fill="#0072bd" fill-opacity="0.6102072372884184"/>
<rect x="327.16" y="122.80" width="0.51" height="6.90" fill="#0072bd" fill-opacity="0.3300115338953145"/>
<rect x="327.68" y="122.80" width="0.52" height="6.90" fill="#0072bd" fill-opacity="0.5750585316894306"/>
<rect x="331.50" y="122.80" width="0.61" height="6.90" fill="#0072bd" fill-opacity="0.6929786159863067"/>
<rect x="332.11" y="122.80" width="0.82" height="6.90" fill="#0072bd" fill-opacity="0.37093085269059384"/>
<rect x="332.92" y="122.80" width="0.74" height="6.90" fill="#0072bd" fill-opacity="0.46312129782790495"/>
<rect x="333.66" y="122.80" width="0.53" height="6.90" fill="#0072bd" fill-opacity="0.416763442422557"/>
<rect x="334.19" y="122.80" width="0.66" height="6.90" fill="#0072bd" fill-opacity="0.4407736066082934"/>
<rect x="334.85" y="122.80" width="0.60" height="6.90" fill="#0072bd" fill-opacity="0.3678287752549714"/>
<rect x="335.44" y="122.80" width="0.73" height="6.90" fill="#0072bd" fill-opacity="0.54014942520307"/>
<rect x="336.18" y="122.80" width="0.52" height="6.90" fill="#0072bd" fill-opacity="0.6450822010798984"/>
<rect x="338.10" y="122.80" width="0.62" height="6.90" fill="#0072bd" fill-opacity="0.6015911615416815"/>
<rect x="338.72" y="122.80" width="0.50" height="6.90" fill="#0072bd" fill-opacity="0.35268787425796166"/>
<rect x="339.22" y="122.80" width="0.64" height="6.90" fill="#0072bd" fill-opacity="0.3550211573630618"/>
<rect x="339.86" y="122.80" width="0.56" height="6.90" fill="#0072bd" fill-opacity="0.5656850298763925"/>
<rect x="340.42" y="122.80" width="0.69" height="6.90" fill="#0072bd" fill-opacity="0.16803105529372742"/>
<rect x="341.10" y="122.80" width="0.81" height="6.90" fill="#0072bd" fill-opacity="0.19741083195537823"/>
<rect x="341.91" y="122.80" width="0.77" height="6.90" fill="#0072bd" fill-opacity="0.31968665626310894"/>
<rect x="342.68" y="122.80" width="0.79" height="6.90" fill="#0072bd" fill-opacity="0.6291502518639646"/>
<rect x="343.47" y="122.80" width="0.91" height="6.90" fill="#0072bd" fill-opacity="0.35955096337662185"/>
<rect x="344.38" y="122.80" width="0.42" height="6.90" fill="#0072bd" fill-opacity="0.4711482708841028"/>
<rect x="346.20" y="122.80" width="0.68" height="6.90" fill="#0072bd" fill-opacity="0.12105624361625106"/>
<rect x="346.88" y="122.80" width="0.80" height="6.90" fill="#0072bd" fill-opacity="0.33192956923332545"/>
<rect x="347.68" y="122.80" width="0.42" height="6.90" fill="#0072bd" fill-opacity="0.5339984593279028"/>
<rect x="350.90" y="122.80" width="0.80" height="6.90" fill="#0072bd" fill-opacity="0.22555804111523292"/>
<rect x="351.70" y="122.80" width="0.10" height="6.90" fill="#0072bd" fill-opacity="0.1"/>
<line x1="241.00" y1="115.00" x2="241.00" y2="122.80" stroke="#0072bd" stroke-opacity="0.35" stroke-width="0.8"/>
<line x1="264.40" y1="115.00" x2="264.40" y2="122.80" stroke="#0072bd" stroke-opacity="0.35" stroke-width="0.8"/>
<line x1="292.00" y1="115.00" x2="292.00" y2="122.80" stroke="#0072bd" stroke-opacity="0.35" stroke-width="0.8"/>
<line x1="320.00" y1="115.00" x2="320.00" y2="122.80" stroke="#0072bd" stroke-opacity="0.35" stroke-width="0.8"/>
<line x1="241.00" y1="101.60" x2="241.00" y2="115.00" stroke="#0072bd" stroke-opacity="0.3" stroke-width="0.8"/>
<line x1="237.94" y1="107.95" x2="237.94" y2="114.04" stroke="#ffffff" stroke-opacity="0.19952186010028441" stroke-width="0.6706801336944186"/>
<line x1="246.69" y1="121.85" x2="246.69" y2="129.40" stroke="#ffffff" stroke-opacity="0.15901957582521198" stroke-width="0.6111144164979226"/>
<line x1="213.99" y1="60.22" x2="213.99" y2="68.33" stroke="#ffffff" stroke-opacity="0.363977062409264" stroke-width="0.6091863339907871"/>
<line x1="242.41" y1="111.30" x2="242.41" y2="114.58" stroke="#ffffff" stroke-opacity="0.2662367476995857" stroke-width="0.6860987598543458"/>
<line x1="235.56" y1="99.70" x2="235.56" y2="104.19" stroke="#ffffff" stroke-opacity="0.21358618558744719" stroke-width="0.5886318739471598"/>
<line x1="242.11" y1="110.99" x2="242.11" y2="113.45" stroke="#ffffff" stroke-opacity="0.3745110407047497" stroke-width="0.7476800371013554"/>
<line x1="238.23" y1="104.61" x2="238.23" y2="109.22" stroke="#ffffff" stroke-opacity="0.19419856371915223" stroke-width="0.7659938341428953"/>
<line x1="210.72" y1="58.20" x2="210.72" y2="62.41" stroke="#ffffff" stroke-opacity="0.3477472596879708" stroke-width="0.4792090279928496"/>
<line x1="247.29" y1="121.19" x2="247.29" y2="129.40" stroke="#ffffff" stroke-opacity="0.19796917419644347" stroke-width="0.5168222884429244"/>
<line x1="242.27" y1="114.99" x2="242.27" y2="119.41" stroke="#ffffff" stroke-opacity="0.2373739640582279" stroke-width="0.42295386079928077"/>
<line x1="213.69" y1="59.61" x2="213.69" y2="66.82" stroke="#ffffff" stroke-opacity="0.2932066584866252" stroke-width="0.5397802067082081"/>
<line x1="212.13" y1="60.56" x2="212.13" y2="66.05" stroke="#ffffff" stroke-opacity="0.236279906539398" stroke-width="0.7892834967319489"/>
<line x1="230.42" y1="91.58" x2="230.42" y2="103.15" stroke="#ffffff" stroke-opacity="0.3924252787686566" stroke-width="0.5559671299761199"/>
<line x1="247.13" y1="120.08" x2="247.13" y2="129.40" stroke="#ffffff" stroke-opacity="0.19221704276622206" stroke-width="0.7456119882899204"/>
<line x1="234.26" y1="104.77" x2="234.26" y2="109.79" stroke="#ffffff" stroke-opacity="0.3134820637314435" stroke-width="0.7762288030625538"/>
<line x1="210.89" y1="58.52" x2="210.89" y2="66.09" stroke="#ffffff" stroke-opacity="0.18342368349379157" stroke-width="0.4218157138748083"/>
<line x1="206.06" y1="95.61" x2="206.06" y2="104.11" stroke="#ffffff" stroke-opacity="0.2664644635234652" stroke-width="0.6416533086778138"/>
<line x1="206.52" y1="72.06" x2="206.52" y2="79.71" stroke="#ffffff" stroke-opacity="0.18920105777133153" stroke-width="0.4051299777093122"/>
<line x1="208.02" y1="66.09" x2="208.02" y2="77.68" stroke="#ffffff" stroke-opacity="0.2740761343086122" stroke-width="0.4025156955929714"/>
<line x1="213.70" y1="61.25" x2="213.70" y2="71.17" stroke="#ffffff" stroke-opacity="0.20151045399196235" stroke-width="0.5869951664263204"/>
<line x1="206.95" y1="74.47" x2="206.95" y2="84.03" stroke="#ffffff" stroke-opacity="0.2748985198206755" stroke-width="0.7141109217715984"/>
<line x1="215.38" y1="61.16" x2="215.38" y2="67.87" stroke="#ffffff" stroke-opacity="0.3008978310465612" stroke-width="0.4291269934914923"/>
<line x1="224.74" y1="60.91" x2="224.74" y2="65.25" stroke="#ffffff" stroke-opacity="0.28848389723834367" stroke-width="0.40786787880165404"/>
<line x1="223.21" y1="62.68" x2="223.21" y2="71.15" stroke="#ffffff" stroke-opacity="0.27653653626813757" stroke-width="0.748432296458319"/>
<line x1="234.95" y1="102.30" x2="234.95" y2="108.05" stroke="#ffffff" stroke-opacity="0.36843830941838207" stroke-width="0.6257312680862198"/>
<line x1="226.17" y1="59.54" x2="226.17" y2="63.07" stroke="#ffffff" stroke-opacity="0.19761842656895975" stroke-width="0.6410125838257323"/>
<line x1="228.29" y1="72.26" x2="228.29" y2="78.75" stroke="#ffffff" stroke-opacity="0.24612697835822256" stroke-width="0.6221257362336546"/>
<line x1="216.10" y1="62.79" x2="216.10" y2="71.14" stroke="#ffffff" stroke-opacity="0.2251845923462131" stroke-width="0.596658794726054"/>
<line x1="241.22" y1="114.73" x2="241.22" y2="123.73" stroke="#ffffff" stroke-opacity="0.36934936061231594" stroke-width="0.7226606524602994"/>
<line x1="221.05" y1="59.80" x2="221.05" y2="66.45" stroke="#ffffff" stroke-opacity="0.16301583827711244" stroke-width="0.6365886353144558"/>
<line x1="228.93" y1="85.23" x2="228.93" y2="90.63" stroke="#ffffff" stroke-opacity="0.39430333122179034" stroke-width="0.6954952497019857"/>
<line x1="230.06" y1="92.75" x2="230.06" y2="104.09" stroke="#ffffff" stroke-opacity="0.32086521025154247" stroke-width="0.6535781023091168"/>
<line x1="213.65" y1="58.59" x2="213.65" y2="62.55" stroke="#ffffff" stroke-opacity="0.37955565887037424" stroke-width="0.5771689385787476"/>
<line x1="235.27" y1="103.30" x2="235.27" y2="113.43" stroke="#ffffff" stroke-opacity="0.22221547018216492" stroke-width="0.48075040620421844"/>
<line x1="246.42" y1="120.27" x2="246.42" y2="129.40" stroke="#ffffff" stroke-opacity="0.24902861530771053" stroke-width="0.4085753889039993"/>
<line x1="218.22" y1="35.70" x2="218.22" y2="41.30" stroke="#0072bd" stroke-opacity="0.3513364816455074" stroke-width="0.5418421534842156"/>
<line x1="208.71" y1="61.70" x2="208.71" y2="63.00" stroke="#0072bd" stroke-opacity="0.39296495812152454" stroke-width="0.6100076935206296"/>
<line x1="234.28" y1="98.25" x2="234.28" y2="100.00" stroke="#0072bd" stroke-opacity="0.32103384521646766" stroke-width="0.6660443650777828"/>
<line x1="219.27" y1="36.14" x2="219.27" y2="41.30" stroke="#0072bd" stroke-opacity="0.31517517529804284" stroke-width="0.7252193547880541"/>
<line x1="233.67" y1="96.52" x2="233.67" y2="100.00" stroke="#0072bd" stroke-opacity="0.4260897838847285" stroke-width="0.6039818930288463"/>
<line x1="244.61" y1="110.15" x2="244.61" y2="115.60" stroke="#0072bd" stroke-opacity="0.32140256502011877" stroke-width="0.7551107623167231"/>
<line x1="232.13" y1="85.82" x2="232.13" y2="92.00" stroke="#0072bd" stroke-opacity="0.4275135010773584" stroke-width="0.7742088464038065"/>
<line x1="228.56" y1="65.43" x2="228.56" y2="68.50" stroke="#0072bd" stroke-opacity="0.4338124994477827" stroke-width="0.7779133544804646"/>
<line x1="227.76" y1="63.20" x2="227.76" y2="68.50" stroke="#0072bd" stroke-opacity="0.4012250662511933" stroke-width="0.5997634261320858"/>
<line x1="213.94" y1="53.26" x2="213.94" y2="58.00" stroke="#0072bd" stroke-opacity="0.29174516311737886" stroke-width="0.6341453118461821"/>
<line x1="238.43" y1="101.61" x2="238.43" y2="104.90" stroke="#0072bd" stroke-opacity="0.35823131693290555" stroke-width="0.789660771300395"/>
<line x1="230.55" y1="87.76" x2="230.55" y2="92.00" stroke="#0072bd" stroke-opacity="0.29834483764710573" stroke-width="0.7246309438820073"/>
<line x1="221.09" y1="52.70" x2="221.09" y2="58.00" stroke="#0072bd" stroke-opacity="0.4884101314567446" stroke-width="0.7494763214744765"/>
<line x1="214.81" y1="51.43" x2="214.81" y2="58.00" stroke="#0072bd" stroke-opacity="0.4163697505291841" stroke-width="0.5525802881322527"/>
<line x1="207.26" y1="69.51" x2="207.26" y2="72.00" stroke="#0072bd" stroke-opacity="0.3961238903159351" stroke-width="0.645488258991858"/>
<line x1="205.59" y1="87.51" x2="205.59" y2="94.20" stroke="#0072bd" stroke-opacity="0.2666077576171946" stroke-width="0.7515725443326875"/>
<line x1="226.55" y1="62.71" x2="226.55" y2="68.50" stroke="#0072bd" stroke-opacity="0.45246229647375347" stroke-width="0.7087941541873608"/>
<line x1="221.49" y1="53.89" x2="221.49" y2="58.00" stroke="#0072bd" stroke-opacity="0.30096023510316927" stroke-width="0.5788043755066982"/>
<line x1="206.35" y1="68.81" x2="206.35" y2="72.00" stroke="#0072bd" stroke-opacity="0.4754040124140541" stroke-width="0.7158851368065116"/>
<line x1="208.06" y1="59.95" x2="208.06" y2="63.00" stroke="#0072bd" stroke-opacity="0.35916014353952685" stroke-width="0.6568318013830412"/>
<line x1="227.13" y1="62.48" x2="227.13" y2="68.50" stroke="#0072bd" stroke-opacity="0.29903273910600925" stroke-width="0.692137530167244"/>
<line x1="232.99" y1="98.90" x2="232.99" y2="100.00" stroke="#0072bd" stroke-opacity="0.28791506404876627" stroke-width="0.5354621830787699"/>
<line x1="231.67" y1="85.85" x2="231.67" y2="92.00" stroke="#0072bd" stroke-opacity="0.4704542037741255" stroke-width="0.7514933038371385"/>
<line x1="228.75" y1="76.68" x2="228.75" y2="81.40" stroke="#0072bd" stroke-opacity="0.4158411461215891" stroke-width="0.5895694032489042"/>
<line x1="226.04" y1="56.19" x2="226.04" y2="58.00" stroke="#0072bd" stroke-opacity="0.3329431432265161" stroke-width="0.6097348210798849"/>
<line x1="246.16" y1="117.74" x2="246.16" y2="120.00" stroke="#0072bd" stroke-opacity="0.37212564579702634" stroke-width="0.5178938845755324"/>
<line x1="208.00" y1="58.90" x2="208.00" y2="63.00" stroke="#0072bd" stroke-opacity="0.3976843318187937" stroke-width="0.657286346918023"/>
<line x1="247.50" y1="116.14" x2="247.50" y2="120.00" stroke="#0072bd" stroke-opacity="0.4064803519104002" stroke-width="0.7628284856511967"/>
<line x1="210.87" y1="52.38" x2="210.87" y2="58.00" stroke="#0072bd" stroke-opacity="0.2831117129439265" stroke-width="0.7642763908764691"/>
<line x1="237.77" y1="99.21" x2="237.77" y2="104.90" stroke="#0072bd" stroke-opacity="0.46473626032984583" stroke-width="0.5133399902311638"/>
<line x1="208.98" y1="59.49" x2="208.98" y2="63.00" stroke="#0072bd" stroke-opacity="0.2663395888280563" stroke-width="0.7733332529963441"/>
<line x1="212.92" y1="55.61" x2="212.92" y2="58.00" stroke="#0072bd" stroke-opacity="0.4312878078023637" stroke-width="0.5324871392463647"/>
<line x1="242.07" y1="106.89" x2="242.07" y2="110.00" stroke="#0072bd" stroke-opacity="0.3839119263463082" stroke-width="0.7509542794779294"/>
<line x1="208.50" y1="60.47" x2="208.50" y2="63.00" stroke="#0072bd" stroke-opacity="0.34522178015013083" stroke-width="0.712324666949808"/>
<line x1="217.84" y1="37.77" x2="217.84" y2="41.30" stroke="#0072bd" stroke-opacity="0.3018849641010852" stroke-width="0.6767244735348018"/>
<line x1="223.24" y1="53.11" x2="223.24" y2="58.00" stroke="#0072bd" stroke-opacity="0.251508614079763" stroke-width="0.6674963395483331"/>
<line x1="245.62" y1="113.16" x2="245.62" y2="115.60" stroke="#0072bd" stroke-opacity="0.30917858533893716" stroke-width="0.7316875173017043"/>
<line x1="211.65" y1="53.94" x2="211.65" y2="58.00" stroke="#0072bd" stroke-opacity="0.3524536691345952" stroke-width="0.5506273211207436"/>
<line x1="219.46" y1="35.51" x2="219.46" y2="41.30" stroke="#0072bd" stroke-opacity="0.4080579131099553" stroke-width="0.5748171826901801"/>
<line x1="230.58" y1="85.03" x2="230.58" y2="92.00" stroke="#0072bd" stroke-opacity="0.28935171732955944" stroke-width="0.7187185213499161"/>
<rect x="216.90" y="87.80" width="1.50" height="27.80" fill="#ffffff" fill-opacity="0.4"/>
<path d="M207.30,106.00 L219.00,106.00 L219.00,113.40 L228.60,113.40 L228.60,129.30 L207.30,129.30Z" fill="#ffffff" fill-opacity="0.9"/>
<rect x="209.40" y="117.70" width="4.10" height="11.60" fill="#ffffff" fill-opacity="1"/>
<line x1="208.50" y1="108.00" x2="208.50" y2="129.30" stroke="#0072bd" stroke-opacity="0.5" stroke-width="0.6"/>
<line x1="214.50" y1="108.00" x2="214.50" y2="129.30" stroke="#0072bd" stroke-opacity="0.5" stroke-width="0.6"/>
<line x1="216.00" y1="108.00" x2="216.00" y2="129.30" stroke="#0072bd" stroke-opacity="0.5" stroke-width="0.6"/>
<line x1="219.50" y1="108.00" x2="219.50" y2="129.30" stroke="#0072bd" stroke-opacity="0.5" stroke-width="0.6"/>
<line x1="221.50" y1="108.00" x2="221.50" y2="129.30" stroke="#0072bd" stroke-opacity="0.5" stroke-width="0.6"/>
<line x1="224.00" y1="108.00" x2="224.00" y2="129.30" stroke="#0072bd" stroke-opacity="0.5" stroke-width="0.6"/>
<line x1="226.50" y1="108.00" x2="226.50" y2="129.30" stroke="#0072bd" stroke-opacity="0.5" stroke-width="0.6"/>
<polyline points="204.90,114.28 206.79,112.13 208.69,109.99 210.58,107.93 212.47,106.04 214.36,104.38 216.25,103.04 218.15,102.05 220.04,101.48 221.93,101.35 223.83,101.66 225.72,102.40 227.61,103.53 229.50,105.01 231.40,106.77 233.29,108.74 235.18,110.84 237.07,112.99 238.97,115.13 240.86,117.19 242.75,119.13 244.64,120.91 246.54,122.50 248.43,123.90 250.32,125.10 252.21,126.10 254.11,126.93 256.00,127.61 257.89,128.14 259.78,128.56 261.68,128.87 263.57,129.11 265.46,129.29 267.35,129.42 269.25,129.51 271.14,129.57 273.03,129.62 274.92,129.65 276.81,129.67 278.71,129.68 280.60,129.69 282.49,129.69 284.38,129.70 286.28,129.70 288.17,129.70 290.06,129.70 291.96,129.70 293.85,129.70 295.74,129.70 297.63,129.70 299.52,129.70 301.42,129.70 303.31,129.70 305.20,129.70 307.10,129.70 308.99,129.70 310.88,129.70 312.77,129.70 314.67,129.70 316.56,129.70 318.45,129.70 320.34,129.70 322.24,129.70 324.13,129.70 326.02,129.70 327.91,129.70 329.81,129.70 331.70,129.70 333.59,129.70 335.48,129.70 337.38,129.70 339.27,129.70 341.16,129.70 343.05,129.70 344.94,129.70 346.84,129.70 348.73,129.70 350.62,129.70 352.51,129.70 354.41,129.70 356.30,129.70" fill="none" stroke="#d95319" stroke-opacity="1.0" stroke-width="0.95"/>
</g>
<rect x="305.40" y="14.50" width="47.40" height="12.50" fill="#fff" stroke="#505050" stroke-width="0.7"/>
<line x1="307.00" y1="17.70" x2="319.50" y2="17.70" stroke="#0072bd" stroke-opacity="0.5" stroke-width="0.8"/>
<circle cx="313.30" cy="23.50" r="0.45" fill="#d95319"/>
<path d="M204.90,129.70v-1.5M204.90,10.70v1.5M226.53,129.70v-1.5M226.53,10.70v1.5M248.16,129.70v-1.5M248.16,10.70v1.5M269.79,129.70v-1.5M269.79,10.70v1.5M291.41,129.70v-1.5M291.41,10.70v1.5M313.04,129.70v-1.5M313.04,10.70v1.5M334.67,129.70v-1.5M334.67,10.70v1.5M356.30,129.70v-1.5M356.30,10.70v1.5M204.90,129.70h1.5M356.30,129.70h-1.5M204.90,109.87h1.5M356.30,109.87h-1.5M204.90,90.03h1.5M356.30,90.03h-1.5M204.90,70.20h1.5M356.30,70.20h-1.5M204.90,50.37h1.5M356.30,50.37h-1.5M204.90,30.53h1.5M356.30,30.53h-1.5M204.90,10.70h1.5M356.30,10.70h-1.5" stroke="#505050" stroke-width="0.7" fill="none"/>
<rect x="204.90" y="10.70" width="151.40" height="119.00" fill="none" stroke="#505050" stroke-width="0.8"/>
<g clip-path="url(#cc)">
<line x1="393.60" y1="20.10" x2="393.60" y2="80.00" stroke="#0072bd" stroke-opacity="0.45" stroke-width="0.9"/>
<line x1="393.60" y1="32.00" x2="393.60" y2="80.00" stroke="#0072bd" stroke-opacity="0.6" stroke-width="0.9"/>
<line x1="391.40" y1="38.50" x2="391.40" y2="80.00" stroke="#0072bd" stroke-opacity="0.45" stroke-width="0.9"/>
<line x1="396.00" y1="38.50" x2="396.00" y2="80.00" stroke="#0072bd" stroke-opacity="0.45" stroke-width="0.9"/>
<line x1="400.50" y1="50.40" x2="400.50" y2="80.00" stroke="#0072bd" stroke-opacity="0.45" stroke-width="0.9"/>
<line x1="398.30" y1="56.90" x2="398.30" y2="80.00" stroke="#0072bd" stroke-opacity="0.45" stroke-width="0.9"/>
<line x1="402.50" y1="63.30" x2="402.50" y2="80.00" stroke="#0072bd" stroke-opacity="0.45" stroke-width="0.9"/>
<line x1="389.80" y1="60.00" x2="389.80" y2="80.00" stroke="#0072bd" stroke-opacity="0.4" stroke-width="0.9"/>
<line x1="392.50" y1="50.00" x2="392.50" y2="80.00" stroke="#0072bd" stroke-opacity="0.4" stroke-width="0.9"/>
<line x1="394.80" y1="45.00" x2="394.80" y2="80.00" stroke="#0072bd" stroke-opacity="0.45" stroke-width="0.9"/>
<line x1="397.20" y1="52.00" x2="397.20" y2="80.00" stroke="#0072bd" stroke-opacity="0.4" stroke-width="0.9"/>
<line x1="399.40" y1="58.00" x2="399.40" y2="80.00" stroke="#0072bd" stroke-opacity="0.45" stroke-width="0.9"/>
<line x1="401.50" y1="60.00" x2="401.50" y2="80.00" stroke="#0072bd" stroke-opacity="0.4" stroke-width="0.9"/>
<line x1="390.60" y1="55.00" x2="390.60" y2="80.00" stroke="#0072bd" stroke-opacity="0.4" stroke-width="0.9"/>
<line x1="395.60" y1="50.00" x2="395.60" y2="80.00" stroke="#0072bd" stroke-opacity="0.5" stroke-width="0.9"/>
<line x1="392.00" y1="56.00" x2="392.00" y2="80.00" stroke="#0072bd" stroke-opacity="0.5" stroke-width="0.9"/>
<path d="M386.60,129.70V95.00H387.50V88.00H388.60V80.00H389.40V70.00H390.00V62.00H403.90V74.50H406.20V80.00H408.50V92.00H410.70V102.70H412.80V110.00H416.00V114.00H422.50V118.00H424.00V121.00H427.00V129.70Z" fill="#0072bd" fill-opacity="0.4"/>
<path d="M386.60,129.70V102.70H387.20V92.00H388.60V86.70H389.40V74.50H406.20V86.70H408.50V100.00H410.70V104.00H412.80V108.00H416.00V112.00H420.00V116.00H424.00V120.00H427.00V129.70Z" fill="#0072bd" fill-opacity="0.85"/>
<line x1="387.88" y1="96.83" x2="387.88" y2="103.14" stroke="#ffffff" stroke-opacity="0.3986012458171677" stroke-width="0.7786974329445663"/>
<line x1="397.05" y1="76.84" x2="397.05" y2="86.61" stroke="#ffffff" stroke-opacity="0.25242728232006495" stroke-width="0.7158745008191875"/>
<line x1="420.04" y1="116.91" x2="420.04" y2="129.16" stroke="#ffffff" stroke-opacity="0.32150232201849915" stroke-width="0.6375464791702684"/>
<line x1="391.51" y1="76.15" x2="391.51" y2="87.53" stroke="#ffffff" stroke-opacity="0.38102571070963986" stroke-width="0.7289712447530661"/>
<line x1="413.86" y1="109.04" x2="413.86" y2="128.00" stroke="#ffffff" stroke-opacity="0.20730425979066303" stroke-width="0.5351309303897819"/>
<line x1="392.94" y1="77.24" x2="392.94" y2="93.77" stroke="#ffffff" stroke-opacity="0.3254534565817514" stroke-width="0.73088167820157"/>
<line x1="414.98" y1="111.09" x2="414.98" y2="118.37" stroke="#ffffff" stroke-opacity="0.3896297198707451" stroke-width="0.7961938047499466"/>
<line x1="416.20" y1="116.98" x2="416.20" y2="129.40" stroke="#ffffff" stroke-opacity="0.3693168492786743" stroke-width="0.7027275391677523"/>
<line x1="419.40" y1="115.30" x2="419.40" y2="120.47" stroke="#ffffff" stroke-opacity="0.35932669514233817" stroke-width="0.5409691157100872"/>
<line x1="412.60" y1="108.45" x2="412.60" y2="119.83" stroke="#ffffff" stroke-opacity="0.21760431262809152" stroke-width="0.6213279847515785"/>
<line x1="421.98" y1="120.12" x2="421.98" y2="129.40" stroke="#ffffff" stroke-opacity="0.3769551281658633" stroke-width="0.7219451343242531"/>
<line x1="406.19" y1="75.00" x2="406.19" y2="93.86" stroke="#ffffff" stroke-opacity="0.15961487241567374" stroke-width="0.7788205044722796"/>
<line x1="412.43" y1="104.80" x2="412.43" y2="110.62" stroke="#ffffff" stroke-opacity="0.3292353701328137" stroke-width="0.4289162805838652"/>
<line x1="404.01" y1="74.59" x2="404.01" y2="79.88" stroke="#ffffff" stroke-opacity="0.21285805849691647" stroke-width="0.6610719730954426"/>
<line x1="387.69" y1="96.20" x2="387.69" y2="109.91" stroke="#ffffff" stroke-opacity="0.2145846343324588" stroke-width="0.6857931793562295"/>
<line x1="389.15" y1="87.59" x2="389.15" y2="99.16" stroke="#ffffff" stroke-opacity="0.36355787698682107" stroke-width="0.6700887542271039"/>
<line x1="388.21" y1="96.77" x2="388.21" y2="102.39" stroke="#ffffff" stroke-opacity="0.19613372246168115" stroke-width="0.6311349870676728"/>
<line x1="389.44" y1="76.26" x2="389.44" y2="82.86" stroke="#ffffff" stroke-opacity="0.26264874911014024" stroke-width="0.5397513881371955"/>
<line x1="403.60" y1="75.87" x2="403.60" y2="87.03" stroke="#ffffff" stroke-opacity="0.3143095677113019" stroke-width="0.5681203813118839"/>
<line x1="407.97" y1="87.83" x2="407.97" y2="97.59" stroke="#ffffff" stroke-opacity="0.16945922933804436" stroke-width="0.5831706491355277"/>
<line x1="406.97" y1="87.08" x2="406.97" y2="95.47" stroke="#ffffff" stroke-opacity="0.28909319577452286" stroke-width="0.5944004015256044"/>
<line x1="412.10" y1="104.91" x2="412.10" y2="121.85" stroke="#ffffff" stroke-opacity="0.18721730558511712" stroke-width="0.7677474761480864"/>
<line x1="400.35" y1="75.48" x2="400.35" y2="84.19" stroke="#ffffff" stroke-opacity="0.38668570794038315" stroke-width="0.6775337454303678"/>
<line x1="424.72" y1="124.95" x2="424.72" y2="129.40" stroke="#ffffff" stroke-opacity="0.35074137349932255" stroke-width="0.4175679671344328"/>
<line x1="419.44" y1="112.91" x2="419.44" y2="121.59" stroke="#ffffff" stroke-opacity="0.3176350353000351" stroke-width="0.6034899746044895"/>
<line x1="408.89" y1="101.26" x2="408.89" y2="110.94" stroke="#ffffff" stroke-opacity="0.37995002720862336" stroke-width="0.41053934441720896"/>
<line x1="387.43" y1="95.04" x2="387.43" y2="99.44" stroke="#ffffff" stroke-opacity="0.21407765048321045" stroke-width="0.5087387639315195"/>
<line x1="387.66" y1="93.65" x2="387.66" y2="113.19" stroke="#ffffff" stroke-opacity="0.36507028835737376" stroke-width="0.4167701640763128"/>
<line x1="426.56" y1="124.46" x2="426.56" y2="129.40" stroke="#ffffff" stroke-opacity="0.1943722054413508" stroke-width="0.5270124319860068"/>
<line x1="393.08" y1="78.06" x2="393.08" y2="93.26" stroke="#ffffff" stroke-opacity="0.21912306231286663" stroke-width="0.7838377337532532"/>
<line x1="415.98" y1="111.43" x2="415.98" y2="121.63" stroke="#ffffff" stroke-opacity="0.36421185385543314" stroke-width="0.6197201793937338"/>
<line x1="418.07" y1="116.53" x2="418.07" y2="120.73" stroke="#ffffff" stroke-opacity="0.1618957198957035" stroke-width="0.4944426849076073"/>
<line x1="423.86" y1="117.31" x2="423.86" y2="126.72" stroke="#ffffff" stroke-opacity="0.28894109750491753" stroke-width="0.6192763633122084"/>
<line x1="404.76" y1="78.50" x2="404.76" y2="89.38" stroke="#ffffff" stroke-opacity="0.341354806167978" stroke-width="0.454350812428893"/>
<line x1="416.89" y1="114.06" x2="416.89" y2="125.69" stroke="#ffffff" stroke-opacity="0.18372316044053577" stroke-width="0.7479831536524275"/>
<line x1="392.37" y1="78.20" x2="392.37" y2="90.07" stroke="#ffffff" stroke-opacity="0.15278860647830342" stroke-width="0.7827149774800055"/>
<line x1="416.84" y1="112.06" x2="416.84" y2="118.09" stroke="#ffffff" stroke-opacity="0.38400939835494463" stroke-width="0.5815409969439588"/>
<line x1="409.59" y1="101.81" x2="409.59" y2="104.90" stroke="#ffffff" stroke-opacity="0.1688205989462789" stroke-width="0.5077611966654176"/>
<line x1="391.73" y1="76.23" x2="391.73" y2="85.88" stroke="#ffffff" stroke-opacity="0.3407704161750821" stroke-width="0.41199129377160987"/>
<line x1="413.54" y1="108.87" x2="413.54" y2="122.53" stroke="#ffffff" stroke-opacity="0.23530064606007375" stroke-width="0.4296143639779597"/>
<line x1="415.72" y1="107.88" x2="415.72" y2="124.76" stroke="#ffffff" stroke-opacity="0.23111306492591202" stroke-width="0.44535831151184146"/>
<line x1="410.48" y1="103.20" x2="410.48" y2="123.01" stroke="#ffffff" stroke-opacity="0.20383431949864628" stroke-width="0.43897295319949925"/>
<line x1="423.96" y1="116.99" x2="423.96" y2="129.40" stroke="#ffffff" stroke-opacity="0.2914031634255303" stroke-width="0.7927479905555388"/>
<line x1="410.60" y1="103.96" x2="410.60" y2="110.12" stroke="#ffffff" stroke-opacity="0.3488062343678455" stroke-width="0.5932554941851893"/>
<line x1="417.43" y1="115.00" x2="417.43" y2="120.35" stroke="#ffffff" stroke-opacity="0.250747660479557" stroke-width="0.6453323762366897"/>
<line x1="394.23" y1="75.78" x2="394.23" y2="83.73" stroke="#ffffff" stroke-opacity="0.26492881394342416" stroke-width="0.7512526011951102"/>
<line x1="424.64" y1="123.03" x2="424.64" y2="129.40" stroke="#ffffff" stroke-opacity="0.3841529239371103" stroke-width="0.7447087329109305"/>
<line x1="409.84" y1="99.70" x2="409.84" y2="108.58" stroke="#ffffff" stroke-opacity="0.2173486103797948" stroke-width="0.6446819261715171"/>
<line x1="402.68" y1="74.71" x2="402.68" y2="88.84" stroke="#ffffff" stroke-opacity="0.255315830602144" stroke-width="0.5904773559617065"/>
<line x1="422.23" y1="119.98" x2="422.23" y2="125.23" stroke="#ffffff" stroke-opacity="0.2770304650711535" stroke-width="0.6743284751580608"/>
<line x1="394.96" y1="75.82" x2="394.96" y2="92.29" stroke="#ffffff" stroke-opacity="0.388221553645068" stroke-width="0.6826640156900154"/>
<line x1="403.70" y1="77.70" x2="403.70" y2="95.96" stroke="#ffffff" stroke-opacity="0.17255240963841462" stroke-width="0.42753982002153523"/>
<line x1="411.10" y1="108.68" x2="411.10" y2="127.37" stroke="#ffffff" stroke-opacity="0.20637055812635016" stroke-width="0.5405501759176368"/>
<line x1="417.04" y1="113.73" x2="417.04" y2="119.62" stroke="#ffffff" stroke-opacity="0.2701870786236226" stroke-width="0.6378022643156293"/>
<line x1="398.17" y1="78.03" x2="398.17" y2="90.81" stroke="#ffffff" stroke-opacity="0.26502349724782415" stroke-width="0.5093644966484083"/>
<line x1="425.77" y1="119.83" x2="425.77" y2="128.20" stroke="#ffffff" stroke-opacity="0.2454912305841313" stroke-width="0.5851563055684668"/>
<line x1="397.07" y1="78.97" x2="397.07" y2="86.65" stroke="#ffffff" stroke-opacity="0.3520025272864086" stroke-width="0.623864229945093"/>
<line x1="416.12" y1="116.19" x2="416.12" y2="126.57" stroke="#ffffff" stroke-opacity="0.15929814452148236" stroke-width="0.5674295587595725"/>
<line x1="387.33" y1="91.56" x2="387.33" y2="95.85" stroke="#ffffff" stroke-opacity="0.17994128505082987" stroke-width="0.7527096231767925"/>
<line x1="417.00" y1="112.88" x2="417.00" y2="117.23" stroke="#ffffff" stroke-opacity="0.15763477050693797" stroke-width="0.5719014750702407"/>
<line x1="404.78" y1="78.97" x2="404.78" y2="88.54" stroke="#ffffff" stroke-opacity="0.2905140545090728" stroke-width="0.6388925933388188"/>
<line x1="395.06" y1="75.34" x2="395.06" y2="81.99" stroke="#ffffff" stroke-opacity="0.23830568146484105" stroke-width="0.6487013716307094"/>
<line x1="403.57" y1="78.77" x2="403.57" y2="92.15" stroke="#ffffff" stroke-opacity="0.20479280229089517" stroke-width="0.5340042899414156"/>
<line x1="422.87" y1="115.60" x2="422.87" y2="125.28" stroke="#ffffff" stroke-opacity="0.26723301698824586" stroke-width="0.46562806563608494"/>
<line x1="417.68" y1="116.72" x2="417.68" y2="124.85" stroke="#ffffff" stroke-opacity="0.2439081842645446" stroke-width="0.5029229530199416"/>
<line x1="414.96" y1="107.52" x2="414.96" y2="118.45" stroke="#ffffff" stroke-opacity="0.1724170494901676" stroke-width="0.6802869515483998"/>
<line x1="410.43" y1="102.55" x2="410.43" y2="117.28" stroke="#ffffff" stroke-opacity="0.1870681128958881" stroke-width="0.7698829376583609"/>
<line x1="421.87" y1="116.96" x2="421.87" y2="129.40" stroke="#ffffff" stroke-opacity="0.28377649833882373" stroke-width="0.7645119902330717"/>
<line x1="411.95" y1="106.20" x2="411.95" y2="112.43" stroke="#ffffff" stroke-opacity="0.22418926405243952" stroke-width="0.6067637010577903"/>
<line x1="386.67" y1="104.14" x2="386.67" y2="113.00" stroke="#ffffff" stroke-opacity="0.31446683586506163" stroke-width="0.6634662974140868"/>
<line x1="390.38" y1="75.61" x2="390.38" y2="92.88" stroke="#ffffff" stroke-opacity="0.16361300574168022" stroke-width="0.5462004192680867"/>
<line x1="390.56" y1="75.48" x2="390.56" y2="95.02" stroke="#ffffff" stroke-opacity="0.261449081164174" stroke-width="0.7588946843199867"/>
<line x1="389.47" y1="77.37" x2="389.47" y2="89.38" stroke="#ffffff" stroke-opacity="0.2117896212801419" stroke-width="0.7059683083805748"/>
<line x1="392.67" y1="77.50" x2="392.67" y2="91.61" stroke="#ffffff" stroke-opacity="0.17212827182847434" stroke-width="0.6344797073798172"/>
<line x1="398.02" y1="79.04" x2="398.02" y2="97.81" stroke="#ffffff" stroke-opacity="0.22419505627459158" stroke-width="0.767676516562084"/>
<line x1="402.37" y1="76.49" x2="402.37" y2="89.08" stroke="#ffffff" stroke-opacity="0.32388127206563455" stroke-width="0.642061716007344"/>
<line x1="425.53" y1="121.21" x2="425.53" y2="129.40" stroke="#ffffff" stroke-opacity="0.17401203946125887" stroke-width="0.5862305394624985"/>
<line x1="390.84" y1="75.02" x2="390.84" y2="93.98" stroke="#ffffff" stroke-opacity="0.20050155422018065" stroke-width="0.7585221828820622"/>
<line x1="413.55" y1="109.83" x2="413.55" y2="121.46" stroke="#ffffff" stroke-opacity="0.2868916545374184" stroke-width="0.52180482435247"/>
<line x1="400.79" y1="77.79" x2="400.79" y2="91.82" stroke="#ffffff" stroke-opacity="0.1846282073620914" stroke-width="0.5339874836268479"/>
<line x1="407.81" y1="80.59" x2="407.81" y2="86.70" stroke="#0072bd" stroke-opacity="0.2773643042702274" stroke-width="0.7456262425893003"/>
<line x1="415.93" y1="103.69" x2="415.93" y2="108.00" stroke="#0072bd" stroke-opacity="0.2716991584953793" stroke-width="0.5741500308489319"/>
<line x1="418.03" y1="107.17" x2="418.03" y2="112.00" stroke="#0072bd" stroke-opacity="0.2887766024870387" stroke-width="0.6723644905106879"/>
<line x1="401.10" y1="68.76" x2="401.10" y2="74.50" stroke="#0072bd" stroke-opacity="0.26843604746508265" stroke-width="0.5867530955452851"/>
<line x1="394.04" y1="69.41" x2="394.04" y2="74.50" stroke="#0072bd" stroke-opacity="0.4561755934604622" stroke-width="0.7892735537322424"/>
<line x1="404.44" y1="70.27" x2="404.44" y2="74.50" stroke="#0072bd" stroke-opacity="0.4822085059605795" stroke-width="0.7844110005878306"/>
<line x1="411.56" y1="101.80" x2="411.56" y2="104.00" stroke="#0072bd" stroke-opacity="0.38255116537241285" stroke-width="0.6886765393481629"/>
<line x1="419.28" y1="109.95" x2="419.28" y2="112.00" stroke="#0072bd" stroke-opacity="0.4318629015606107" stroke-width="0.7052850968522645"/>
<line x1="397.59" y1="72.16" x2="397.59" y2="74.50" stroke="#0072bd" stroke-opacity="0.49690154085303595" stroke-width="0.6048754559336407"/>
<line x1="406.08" y1="72.12" x2="406.08" y2="74.50" stroke="#0072bd" stroke-opacity="0.2501486316823444" stroke-width="0.6561389744048981"/>
<line x1="414.11" y1="105.38" x2="414.11" y2="108.00" stroke="#0072bd" stroke-opacity="0.34402050798264666" stroke-width="0.7384269017286353"/>
<line x1="403.67" y1="71.23" x2="403.67" y2="74.50" stroke="#0072bd" stroke-opacity="0.32461947023499116" stroke-width="0.6688279163409606"/>
<line x1="426.71" y1="117.56" x2="426.71" y2="120.00" stroke="#0072bd" stroke-opacity="0.36658600754903414" stroke-width="0.5689156432413615"/>
<line x1="392.89" y1="71.46" x2="392.89" y2="74.50" stroke="#0072bd" stroke-opacity="0.3794212076368545" stroke-width="0.6744710680325707"/>
<line x1="410.75" y1="98.93" x2="410.75" y2="104.00" stroke="#0072bd" stroke-opacity="0.2902311641019912" stroke-width="0.5477277956449115"/>
<line x1="395.65" y1="72.80" x2="395.65" y2="74.50" stroke="#0072bd" stroke-opacity="0.3001015148753924" stroke-width="0.5447560932374743"/>
<line x1="419.38" y1="108.10" x2="419.38" y2="112.00" stroke="#0072bd" stroke-opacity="0.44778695251153955" stroke-width="0.7288161339871028"/>
<line x1="407.48" y1="79.94" x2="407.48" y2="86.70" stroke="#0072bd" stroke-opacity="0.37803774723006633" stroke-width="0.5938738078635852"/>
<line x1="419.35" y1="109.18" x2="419.35" y2="112.00" stroke="#0072bd" stroke-opacity="0.355927651119874" stroke-width="0.7003236880101718"/>
<line x1="409.45" y1="97.91" x2="409.45" y2="100.00" stroke="#0072bd" stroke-opacity="0.30531189023916233" stroke-width="0.7863191711672426"/>
<line x1="413.18" y1="101.48" x2="413.18" y2="108.00" stroke="#0072bd" stroke-opacity="0.25472821449586724" stroke-width="0.5248765816008116"/>
<line x1="414.45" y1="102.40" x2="414.45" y2="108.00" stroke="#0072bd" stroke-opacity="0.45462731602732365" stroke-width="0.5642239732425998"/>
<line x1="423.10" y1="114.07" x2="423.10" y2="116.00" stroke="#0072bd" stroke-opacity="0.32054835116348457" stroke-width="0.6461232699251436"/>
<line x1="403.36" y1="70.72" x2="403.36" y2="74.50" stroke="#0072bd" stroke-opacity="0.30176186440153885" stroke-width="0.612422804039674"/>
<line x1="413.13" y1="101.05" x2="413.13" y2="108.00" stroke="#0072bd" stroke-opacity="0.3158853282574192" stroke-width="0.664220908982991"/>
<line x1="389.62" y1="68.96" x2="389.62" y2="74.50" stroke="#0072bd" stroke-opacity="0.4452886821417228" stroke-width="0.6136470164289258"/>
<line x1="422.84" y1="113.23" x2="422.84" y2="116.00" stroke="#0072bd" stroke-opacity="0.34301815343159137" stroke-width="0.7028327029639403"/>
<line x1="423.46" y1="112.24" x2="423.46" y2="116.00" stroke="#0072bd" stroke-opacity="0.2753145654679665" stroke-width="0.7916609603637679"/>
<line x1="396.99" y1="71.25" x2="396.99" y2="74.50" stroke="#0072bd" stroke-opacity="0.4108990164583246" stroke-width="0.6036591366017583"/>
<line x1="414.53" y1="105.16" x2="414.53" y2="108.00" stroke="#0072bd" stroke-opacity="0.31395305895154885" stroke-width="0.6295259830701886"/>
<line x1="391.84" y1="73.16" x2="391.84" y2="74.50" stroke="#0072bd" stroke-opacity="0.4273976305791405" stroke-width="0.5705241219773327"/>
<line x1="414.78" y1="104.71" x2="414.78" y2="108.00" stroke="#0072bd" stroke-opacity="0.3098484710828144" stroke-width="0.5682426032941136"/>
<line x1="403.81" y1="67.71" x2="403.81" y2="74.50" stroke="#0072bd" stroke-opacity="0.42590733608842013" stroke-width="0.5560327010902437"/>
<line x1="411.27" y1="99.07" x2="411.27" y2="104.00" stroke="#0072bd" stroke-opacity="0.2928826524724647" stroke-width="0.7096398755303316"/>
<line x1="403.64" y1="67.60" x2="403.64" y2="74.50" stroke="#0072bd" stroke-opacity="0.42909524329050514" stroke-width="0.5650491324228433"/>
<line x1="390.57" y1="68.85" x2="390.57" y2="74.50" stroke="#0072bd" stroke-opacity="0.3909943856009668" stroke-width="0.6202523104412901"/>
<line x1="390.56" y1="67.51" x2="390.56" y2="74.50" stroke="#0072bd" stroke-opacity="0.49288205116247696" stroke-width="0.554313510130251"/>
<line x1="411.20" y1="100.82" x2="411.20" y2="104.00" stroke="#0072bd" stroke-opacity="0.4541573512207455" stroke-width="0.6903473688548011"/>
<line x1="420.74" y1="110.13" x2="420.74" y2="116.00" stroke="#0072bd" stroke-opacity="0.4899706726707696" stroke-width="0.6786396773954841"/>
<line x1="403.04" y1="70.07" x2="403.04" y2="74.50" stroke="#0072bd" stroke-opacity="0.2592400488907909" stroke-width="0.538125459902874"/>
<line x1="392.01" y1="63.85" x2="392.01" y2="74.37" stroke="#ffffff" stroke-opacity="0.26285298886810193" stroke-width="0.4931063020037454"/>
<line x1="413.61" y1="111.18" x2="413.61" y2="119.02" stroke="#ffffff" stroke-opacity="0.207530164692854" stroke-width="0.7023561116423462"/>
<line x1="388.65" y1="81.09" x2="388.65" y2="92.39" stroke="#ffffff" stroke-opacity="0.17167467270030645" stroke-width="0.5561296288370684"/>
<line x1="394.13" y1="63.60" x2="394.13" y2="71.25" stroke="#ffffff" stroke-opacity="0.3885987464385888" stroke-width="0.7790997302787602"/>
<line x1="399.09" y1="65.71" x2="399.09" y2="72.30" stroke="#ffffff" stroke-opacity="0.17533091635383194" stroke-width="0.5073204565106841"/>
<line x1="399.43" y1="63.68" x2="399.43" y2="75.66" stroke="#ffffff" stroke-opacity="0.35019076891223155" stroke-width="0.43822193251004005"/>
<line x1="410.03" y1="93.11" x2="410.03" y2="97.71" stroke="#ffffff" stroke-opacity="0.3683253548681808" stroke-width="0.427014135734751"/>
<line x1="416.28" y1="118.38" x2="416.28" y2="120.41" stroke="#ffffff" stroke-opacity="0.22345289078576083" stroke-width="0.7159824221722483"/>
<line x1="388.50" y1="89.50" x2="388.50" y2="93.86" stroke="#ffffff" stroke-opacity="0.3715185466813818" stroke-width="0.7242228726481537"/>
<line x1="417.49" y1="115.02" x2="417.49" y2="118.14" stroke="#ffffff" stroke-opacity="0.376062640586556" stroke-width="0.4901427376923866"/>
<line x1="395.33" y1="61.95" x2="395.33" y2="72.19" stroke="#ffffff" stroke-opacity="0.2616641844068798" stroke-width="0.47061937757156813"/>
<line x1="387.48" y1="97.02" x2="387.48" y2="99.44" stroke="#ffffff" stroke-opacity="0.15058671925180758" stroke-width="0.5903075414777965"/>
<line x1="409.37" y1="94.48" x2="409.37" y2="105.66" stroke="#ffffff" stroke-opacity="0.16108775566135652" stroke-width="0.42658979356270676"/>
<line x1="390.38" y1="64.87" x2="390.38" y2="73.45" stroke="#ffffff" stroke-opacity="0.2067808707227742" stroke-width="0.6297345985592396"/>
<line x1="388.81" y1="80.21" x2="388.81" y2="84.96" stroke="#ffffff" stroke-opacity="0.18388484903867738" stroke-width="0.5073823788984151"/>
<line x1="398.57" y1="63.75" x2="398.57" y2="74.34" stroke="#ffffff" stroke-opacity="0.3392721341380214" stroke-width="0.7233739174169349"/>
<line x1="392.95" y1="65.87" x2="392.95" y2="71.67" stroke="#ffffff" stroke-opacity="0.37734429927739344" stroke-width="0.6474431987943623"/>
<line x1="414.11" y1="112.72" x2="414.11" y2="114.94" stroke="#ffffff" stroke-opacity="0.22425693588629886" stroke-width="0.4703317092552104"/>
<line x1="397.28" y1="65.68" x2="397.28" y2="71.65" stroke="#ffffff" stroke-opacity="0.18378877615344744" stroke-width="0.7188988641785998"/>
<line x1="398.14" y1="62.09" x2="398.14" y2="67.87" stroke="#ffffff" stroke-opacity="0.23845975616913825" stroke-width="0.6165604038902834"/>
<line x1="413.06" y1="113.81" x2="413.06" y2="121.68" stroke="#ffffff" stroke-opacity="0.2689221796072265" stroke-width="0.5214222339879213"/>
<line x1="413.71" y1="113.49" x2="413.71" y2="124.47" stroke="#ffffff" stroke-opacity="0.31421410114273024" stroke-width="0.7486380462168474"/>
<line x1="387.57" y1="89.26" x2="387.57" y2="94.40" stroke="#ffffff" stroke-opacity="0.31536534721185483" stroke-width="0.7366807958971411"/>
<line x1="411.50" y1="103.65" x2="411.50" y2="111.58" stroke="#ffffff" stroke-opacity="0.19960698630392015" stroke-width="0.6138040609369593"/>
<line x1="387.95" y1="91.96" x2="387.95" y2="103.56" stroke="#ffffff" stroke-opacity="0.19775938071333643" stroke-width="0.6645939809364987"/>
<rect x="395.80" y="90.00" width="1.00" height="23.00" fill="#ffffff" fill-opacity="0.4"/>
<path d="M396.00,111.80 L404.70,111.80 L404.70,116.60 L409.50,116.60 L409.50,128.60 L388.80,128.60 L388.80,116.60 L396.00,116.60Z" fill="#ffffff" fill-opacity="0.93"/>
<line x1="390.00" y1="114.00" x2="390.00" y2="128.60" stroke="#0072bd" stroke-opacity="0.3" stroke-width="0.5"/>
<line x1="393.50" y1="114.00" x2="393.50" y2="128.60" stroke="#0072bd" stroke-opacity="0.3" stroke-width="0.5"/>
<line x1="396.00" y1="114.00" x2="396.00" y2="128.60" stroke="#0072bd" stroke-opacity="0.3" stroke-width="0.5"/>
<line x1="399.00" y1="114.00" x2="399.00" y2="128.60" stroke="#0072bd" stroke-opacity="0.3" stroke-width="0.5"/>
<line x1="401.50" y1="114.00" x2="401.50" y2="128.60" stroke="#0072bd" stroke-opacity="0.3" stroke-width="0.5"/>
<line x1="404.00" y1="114.00" x2="404.00" y2="128.60" stroke="#0072bd" stroke-opacity="0.3" stroke-width="0.5"/>
<line x1="407.50" y1="114.00" x2="407.50" y2="128.60" stroke="#0072bd" stroke-opacity="0.3" stroke-width="0.5"/>
<rect x="427.30" y="123.70" width="1.40" height="6.00" fill="#0072bd" fill-opacity="0.4795331059332649"/>
<rect x="429.30" y="123.70" width="1.40" height="6.00" fill="#0072bd" fill-opacity="0.4103396695698007"/>
<rect x="431.90" y="123.70" width="1.40" height="6.00" fill="#0072bd" fill-opacity="0.6103737892159415"/>
<rect x="436.30" y="123.70" width="1.40" height="6.00" fill="#0072bd" fill-opacity="0.3789745146670171"/>
<rect x="440.90" y="123.70" width="1.40" height="6.00" fill="#0072bd" fill-opacity="0.5643528017226757"/>
<rect x="444.70" y="123.70" width="1.40" height="6.00" fill="#0072bd" fill-opacity="0.4962755667650342"/>
<rect x="449.30" y="123.70" width="1.40" height="6.00" fill="#0072bd" fill-opacity="0.3731995699098827"/>
<rect x="455.00" y="123.70" width="1.40" height="6.00" fill="#0072bd" fill-opacity="0.5529742932757681"/>
<rect x="458.30" y="123.70" width="1.40" height="6.00" fill="#0072bd" fill-opacity="0.3649982633767939"/>
<rect x="467.90" y="123.70" width="1.40" height="6.00" fill="#0072bd" fill-opacity="0.5234582734649543"/>
<rect x="471.70" y="123.70" width="1.40" height="6.00" fill="#0072bd" fill-opacity="0.37794216942984754"/>
<rect x="474.90" y="123.70" width="1.40" height="6.00" fill="#0072bd" fill-opacity="0.386285205337546"/>
<rect x="482.00" y="123.70" width="1.40" height="6.00" fill="#0072bd" fill-opacity="0.5198076756570056"/>
<rect x="487.10" y="123.70" width="1.40" height="6.00" fill="#0072bd" fill-opacity="0.6807408498688152"/>
<rect x="496.30" y="123.70" width="1.40" height="6.00" fill="#0072bd" fill-opacity="0.3995207844598582"/>
<rect x="500.30" y="123.70" width="1.40" height="6.00" fill="#0072bd" fill-opacity="0.4392955858428058"/>
<rect x="502.30" y="123.70" width="1.40" height="6.00" fill="#0072bd" fill-opacity="0.6009732889622357"/>
<rect x="506.30" y="123.70" width="1.40" height="6.00" fill="#0072bd" fill-opacity="0.7290835769828022"/>
<rect x="508.30" y="123.70" width="1.40" height="6.00" fill="#0072bd" fill-opacity="0.5808411794469994"/>
<rect x="510.30" y="123.70" width="1.40" height="6.00" fill="#0072bd" fill-opacity="0.508672189860312"/>
<rect x="517.30" y="123.70" width="1.40" height="6.00" fill="#0072bd" fill-opacity="0.740502042237168"/>
<rect x="520.30" y="123.70" width="1.40" height="6.00" fill="#0072bd" fill-opacity="0.3686330722471025"/>
<rect x="522.30" y="123.70" width="1.40" height="6.00" fill="#0072bd" fill-opacity="0.6933873836194718"/>
<rect x="528.30" y="123.70" width="1.40" height="6.00" fill="#0072bd" fill-opacity="0.4658437145326705"/>
<rect x="530.30" y="123.70" width="1.40" height="6.00" fill="#0072bd" fill-opacity="0.407702033342975"/>
<rect x="534.30" y="123.70" width="1.40" height="6.00" fill="#0072bd" fill-opacity="0.3971168952313473"/>
<line x1="432.60" y1="117.60" x2="432.60" y2="123.70" stroke="#0072bd" stroke-opacity="0.3" stroke-width="0.7"/>
<line x1="487.80" y1="117.60" x2="487.80" y2="123.70" stroke="#0072bd" stroke-opacity="0.3" stroke-width="0.7"/>
<line x1="533.00" y1="117.60" x2="533.00" y2="123.70" stroke="#0072bd" stroke-opacity="0.3" stroke-width="0.7"/>
<polyline points="386.30,115.87 386.81,115.39 387.32,114.92 387.83,114.45 388.34,113.99 388.85,113.52 389.36,113.06 389.87,112.61 390.39,112.16 390.90,111.73 391.41,111.30 391.92,110.88 392.43,110.47 392.94,110.08 393.45,109.70 393.96,109.34 394.47,108.99 394.98,108.66 395.49,108.35 396.00,108.05 396.51,107.78 397.02,107.53 397.53,107.30 398.04,107.09 398.56,106.91 399.07,106.75 399.58,106.61 400.09,106.50 400.60,106.42 401.11,106.36 401.62,106.33 402.13,106.32 402.64,106.33 403.15,106.38 403.66,106.45 404.17,106.54 404.68,106.66 405.19,106.81 405.70,106.97 406.21,107.17 406.73,107.38 407.24,107.62 407.75,107.88 408.26,108.16 408.77,108.46 409.28,108.78 409.79,109.12 410.30,109.47 410.81,109.84 411.32,110.22 411.83,110.62 412.34,111.03 412.85,111.45 413.36,111.89 413.87,112.33 414.39,112.78 414.90,113.23 415.41,113.69 415.92,114.16 416.43,114.63 416.94,115.10 417.45,115.57 417.96,116.04 418.47,116.51 418.98,116.98 419.49,117.44 420.00,117.91 420.51,118.36 421.02,118.81 421.53,119.26 422.04,119.69 422.56,120.12 423.07,120.54 423.58,120.96 424.09,121.36 424.60,121.75 425.11,122.14 425.62,122.51 426.13,122.87 426.64,123.22 427.15,123.56" fill="none" stroke="#d95319" stroke-opacity="1.0" stroke-width="0.95"/>
</g>
<rect x="486.70" y="14.50" width="47.40" height="12.50" fill="#fff" stroke="#505050" stroke-width="0.7"/>
<line x1="488.30" y1="17.70" x2="500.80" y2="17.70" stroke="#0072bd" stroke-opacity="0.5" stroke-width="0.8"/>
<circle cx="494.60" cy="23.50" r="0.45" fill="#d95319"/>
<path d="M386.30,129.70v-1.5M386.30,10.70v1.5M416.56,129.70v-1.5M416.56,10.70v1.5M446.82,129.70v-1.5M446.82,10.70v1.5M477.08,129.70v-1.5M477.08,10.70v1.5M507.34,129.70v-1.5M507.34,10.70v1.5M537.60,129.70v-1.5M537.60,10.70v1.5M386.30,129.70h1.5M537.60,129.70h-1.5M386.30,117.80h1.5M537.60,117.80h-1.5M386.30,105.90h1.5M537.60,105.90h-1.5M386.30,94.00h1.5M537.60,94.00h-1.5M386.30,82.10h1.5M537.60,82.10h-1.5M386.30,70.20h1.5M537.60,70.20h-1.5M386.30,58.30h1.5M537.60,58.30h-1.5M386.30,46.40h1.5M537.60,46.40h-1.5M386.30,34.50h1.5M537.60,34.50h-1.5M386.30,22.60h1.5M537.60,22.60h-1.5M386.30,10.70h1.5M537.60,10.70h-1.5" stroke="#505050" stroke-width="0.7" fill="none"/>
<rect x="386.30" y="10.70" width="151.30" height="119.00" fill="none" stroke="#505050" stroke-width="0.8"/>
<g clip-path="url(#cd)">
<polyline points="25.00,264.06 25.37,277.63 25.94,277.63 26.50,291.20 26.99,264.06 27.37,277.63 27.99,291.20 28.61,264.06 29.20,236.91 29.62,291.20 30.02,291.20 30.32,264.06 30.77,277.63 31.30,264.06 31.63,264.06 32.24,291.20 32.64,236.91 33.03,250.48 33.35,264.06 34.05,250.48 34.64,291.20 35.50,209.77 35.84,264.06 36.15,209.77 36.58,223.34 37.08,277.63 37.43,236.91 38.11,264.06 38.60,223.34 38.92,277.63 39.50,223.34 39.90,264.06 40.57,250.48 41.30,182.63 41.57,236.91 42.01,250.48 42.50,236.91 42.88,236.91 43.20,223.34 43.84,277.63 44.23,264.06 44.84,264.06 45.23,264.06 45.91,250.48 46.57,250.48 47.20,196.20 47.78,209.77 48.31,250.48 48.90,236.91 49.60,209.77 50.00,182.63 50.37,223.34 50.75,236.91 51.42,250.48 52.08,264.06 52.60,182.63 52.99,209.77 53.47,264.06 53.92,223.34 54.62,223.34 55.00,196.20 55.39,264.06 55.72,277.63 56.31,264.06 57.01,209.77 57.51,223.34 58.00,291.20 58.52,250.48 59.12,250.48 59.51,291.20 60.05,277.63 60.58,250.48 61.20,182.63 61.50,250.48 61.87,250.48 62.30,250.48 62.98,264.06 63.41,264.06 63.95,250.48 64.38,264.06 64.72,250.48 65.04,264.06 65.67,264.06 66.28,277.63 66.73,236.91 67.30,250.48 67.87,209.77 68.53,291.20 69.22,277.63 69.68,209.77 70.37,277.63 71.06,291.20 71.60,277.63 72.25,277.63 72.50,250.48 73.20,236.91 73.59,264.06 74.24,291.20 74.61,291.20 74.94,291.20 75.56,277.63 76.17,250.48 76.70,264.06 77.30,264.06 77.62,291.20 78.02,291.20 78.44,277.63 78.90,264.06 79.27,277.63 79.60,264.06 80.04,291.20 80.40,264.06 81.39,277.63 82.00,264.06 82.48,291.20 82.88,291.20 83.56,291.20 86.20,291.20 86.80,277.63 87.40,291.20 91.20,291.20 91.80,277.63 92.40,291.20 103.90,291.20 104.50,277.63 105.10,291.20 105.40,291.20 106.00,277.63 106.60,291.20 120.40,291.20 121.00,277.63 121.60,291.20 122.40,291.20 123.00,277.63 123.60,291.20 124.90,291.20 125.50,277.63 125.70,291.20 126.10,291.20 126.30,277.63 126.90,291.20 128.20,291.20 128.80,277.63 129.00,291.20 129.40,291.20 129.60,277.63 130.20,291.20 131.70,291.20 132.30,277.63 132.90,291.20 139.10,291.20 139.70,277.63 140.30,291.20 140.90,291.20 141.50,277.63 142.10,291.20 148.20,291.20 148.80,277.63 149.20,291.20 149.40,291.20 149.80,277.63 150.40,291.20" fill="none" stroke="#0072bd" stroke-opacity="0.65" stroke-width="0.5" stroke-linejoin="miter"/>
<polyline points="23.80,279.31 24.49,278.62 25.19,277.90 25.88,277.17 26.58,276.42 27.27,275.64 27.97,274.85 28.66,274.05 29.36,273.23 30.05,272.40 30.74,271.56 31.44,270.71 32.13,269.85 32.83,268.99 33.52,268.13 34.22,267.27 34.91,266.42 35.60,265.57 36.30,264.73 36.99,263.90 37.69,263.08 38.38,262.28 39.08,261.51 39.77,260.75 40.47,260.02 41.16,259.32 41.85,258.65 42.55,258.01 43.24,257.41 43.94,256.85 44.63,256.33 45.33,255.85 46.02,255.42 46.71,255.03 47.41,254.69 48.10,254.40 48.80,254.16 49.49,253.98 50.19,253.84 50.88,253.76 51.58,253.74 52.27,253.76 52.96,253.84 53.66,253.98 54.35,254.16 55.05,254.40 55.74,254.69 56.44,255.03 57.13,255.42 57.82,255.85 58.52,256.33 59.21,256.85 59.91,257.41 60.60,258.01 61.30,258.65 61.99,259.32 62.69,260.02 63.38,260.75 64.07,261.51 64.77,262.28 65.46,263.08 66.16,263.90 66.85,264.73 67.55,265.57 68.24,266.42 68.93,267.27 69.63,268.13 70.32,268.99 71.02,269.85 71.71,270.71 72.41,271.56 73.10,272.40 73.80,273.23 74.49,274.05 75.18,274.85 75.88,275.64 76.57,276.42 77.27,277.17 77.96,277.90 78.66,278.62 79.35,279.31" fill="none" stroke="#d95319" stroke-opacity="1.0" stroke-width="0.9"/>
<ellipse cx="80.86" cy="280.75" rx="0.60" ry="0.5" fill="#d95319" fill-opacity="0.85"/>
<ellipse cx="82.38" cy="282.07" rx="0.60" ry="0.5" fill="#d95319" fill-opacity="0.85"/>
<ellipse cx="84.40" cy="283.66" rx="0.60" ry="0.5" fill="#d95319" fill-opacity="0.85"/>
<ellipse cx="87.43" cy="285.67" rx="0.60" ry="0.5" fill="#d95319" fill-opacity="0.85"/>
<ellipse cx="89.45" cy="286.77" rx="0.60" ry="0.5" fill="#d95319" fill-opacity="0.85"/>
<ellipse cx="93.49" cy="288.46" rx="0.60" ry="0.5" fill="#d95319" fill-opacity="0.85"/>
</g>
<rect x="124.40" y="175.80" width="47.40" height="12.50" fill="#fff" stroke="#505050" stroke-width="0.7"/>
<line x1="126.00" y1="179.00" x2="138.50" y2="179.00" stroke="#0072bd" stroke-opacity="0.5" stroke-width="0.8"/>
<circle cx="132.30" cy="184.80" r="0.45" fill="#d95319"/>
<path d="M23.80,291.20v-1.5M23.80,172.00v1.5M49.05,291.20v-1.5M49.05,172.00v1.5M74.30,291.20v-1.5M74.30,172.00v1.5M99.55,291.20v-1.5M99.55,172.00v1.5M124.80,291.20v-1.5M124.80,172.00v1.5M150.05,291.20v-1.5M150.05,172.00v1.5M175.30,291.20v-1.5M175.30,172.00v1.5M23.80,291.20h1.5M175.30,291.20h-1.5M23.80,274.17h1.5M175.30,274.17h-1.5M23.80,257.14h1.5M175.30,257.14h-1.5M23.80,240.11h1.5M175.30,240.11h-1.5M23.80,223.09h1.5M175.30,223.09h-1.5M23.80,206.06h1.5M175.30,206.06h-1.5M23.80,189.03h1.5M175.30,189.03h-1.5M23.80,172.00h1.5M175.30,172.00h-1.5" stroke="#505050" stroke-width="0.7" fill="none"/>
<rect x="23.80" y="172.00" width="151.50" height="119.20" fill="none" stroke="#505050" stroke-width="0.8"/>
<g clip-path="url(#ce)">
<polyline points="214.00,291.20 214.30,220.00 216.30,291.20 218.80,291.20 220.40,255.60 222.40,291.20 227.60,291.20 229.20,184.40 231.80,220.00 235.90,220.00 237.20,291.20 240.10,184.40 242.30,220.00 244.20,184.40 245.80,255.60 252.00,255.60 254.10,291.20 256.00,255.60 257.80,255.60 259.70,220.00 261.50,255.60 269.70,255.60 270.60,220.00 273.00,220.00 275.20,184.40 277.50,255.60 281.70,184.40 288.30,291.20 291.00,255.60 292.80,291.20 295.20,220.00 297.40,255.60 299.30,255.60 301.70,220.00 304.80,291.20 308.00,291.20 310.10,255.60 315.20,255.60 317.20,291.20 319.20,255.60 321.20,291.20 325.30,180.40 326.60,180.40 328.30,291.20 332.30,255.60 334.30,291.20 350.50,291.20 352.90,255.60 354.50,291.20" fill="none" stroke="#0072bd" stroke-opacity="0.45" stroke-width="0.65" stroke-linejoin="miter"/>
<ellipse cx="213.70" cy="278.00" rx="0.60" ry="0.5" fill="#d95319" fill-opacity="0.8"/>
<ellipse cx="216.10" cy="276.26" rx="0.60" ry="0.5" fill="#d95319" fill-opacity="0.8"/>
<ellipse cx="222.10" cy="271.29" rx="0.60" ry="0.5" fill="#d95319" fill-opacity="0.8"/>
<ellipse cx="228.90" cy="264.71" rx="0.60" ry="0.5" fill="#d95319" fill-opacity="0.8"/>
<ellipse cx="230.80" cy="262.73" rx="0.60" ry="0.5" fill="#d95319" fill-opacity="0.8"/>
<ellipse cx="232.60" cy="260.81" rx="0.60" ry="0.5" fill="#d95319" fill-opacity="0.8"/>
<ellipse cx="234.40" cy="258.85" rx="0.60" ry="0.5" fill="#d95319" fill-opacity="0.8"/>
<ellipse cx="236.30" cy="256.75" rx="0.60" ry="0.5" fill="#d95319" fill-opacity="0.8"/>
<ellipse cx="238.20" cy="254.65" rx="0.60" ry="0.5" fill="#d95319" fill-opacity="0.8"/>
<ellipse cx="240.00" cy="252.65" rx="0.60" ry="0.5" fill="#d95319" fill-opacity="0.8"/>
<ellipse cx="242.70" cy="249.67" rx="0.60" ry="0.5" fill="#d95319" fill-opacity="0.8"/>
<ellipse cx="245.40" cy="246.77" rx="0.60" ry="0.5" fill="#d95319" fill-opacity="0.8"/>
<ellipse cx="247.30" cy="244.79" rx="0.60" ry="0.5" fill="#d95319" fill-opacity="0.8"/>
<ellipse cx="250.00" cy="242.10" rx="0.60" ry="0.5" fill="#d95319" fill-opacity="0.8"/>
<ellipse cx="253.30" cy="239.07" rx="0.60" ry="0.5" fill="#d95319" fill-opacity="0.8"/>
<ellipse cx="257.40" cy="235.83" rx="0.60" ry="0.5" fill="#d95319" fill-opacity="0.8"/>
<ellipse cx="260.10" cy="234.06" rx="0.60" ry="0.5" fill="#d95319" fill-opacity="0.8"/>
<ellipse cx="263.80" cy="232.18" rx="0.60" ry="0.5" fill="#d95319" fill-opacity="0.8"/>
<ellipse cx="267.10" cy="231.10" rx="0.60" ry="0.5" fill="#d95319" fill-opacity="0.8"/>
<ellipse cx="270.30" cy="230.61" rx="0.60" ry="0.5" fill="#d95319" fill-opacity="0.8"/>
<ellipse cx="273.40" cy="230.67" rx="0.60" ry="0.5" fill="#d95319" fill-opacity="0.8"/>
<ellipse cx="276.70" cy="231.31" rx="0.60" ry="0.5" fill="#d95319" fill-opacity="0.8"/>
<ellipse cx="279.40" cy="232.27" rx="0.60" ry="0.5" fill="#d95319" fill-opacity="0.8"/>
<ellipse cx="282.20" cy="233.65" rx="0.60" ry="0.5" fill="#d95319" fill-opacity="0.8"/>
<ellipse cx="284.90" cy="235.34" rx="0.60" ry="0.5" fill="#d95319" fill-opacity="0.8"/>
<ellipse cx="286.80" cy="236.71" rx="0.60" ry="0.5" fill="#d95319" fill-opacity="0.8"/>
<ellipse cx="292.30" cy="241.43" rx="0.60" ry="0.5" fill="#d95319" fill-opacity="0.8"/>
<ellipse cx="295.40" cy="244.48" rx="0.60" ry="0.5" fill="#d95319" fill-opacity="0.8"/>
<ellipse cx="298.30" cy="247.51" rx="0.60" ry="0.5" fill="#d95319" fill-opacity="0.8"/>
<ellipse cx="300.50" cy="249.89" rx="0.60" ry="0.5" fill="#d95319" fill-opacity="0.8"/>
<ellipse cx="303.80" cy="253.53" rx="0.60" ry="0.5" fill="#d95319" fill-opacity="0.8"/>
<ellipse cx="310.60" cy="261.02" rx="0.60" ry="0.5" fill="#d95319" fill-opacity="0.8"/>
<ellipse cx="314.80" cy="265.43" rx="0.60" ry="0.5" fill="#d95319" fill-opacity="0.8"/>
<ellipse cx="317.40" cy="268.02" rx="0.60" ry="0.5" fill="#d95319" fill-opacity="0.8"/>
<ellipse cx="319.80" cy="270.29" rx="0.60" ry="0.5" fill="#d95319" fill-opacity="0.8"/>
<ellipse cx="324.60" cy="274.46" rx="0.60" ry="0.5" fill="#d95319" fill-opacity="0.8"/>
<ellipse cx="327.30" cy="276.56" rx="0.60" ry="0.5" fill="#d95319" fill-opacity="0.8"/>
<ellipse cx="334.30" cy="281.18" rx="0.60" ry="0.5" fill="#d95319" fill-opacity="0.8"/>
<ellipse cx="354.10" cy="288.51" rx="0.60" ry="0.5" fill="#d95319" fill-opacity="0.8"/>
</g>
<rect x="305.40" y="175.80" width="47.40" height="12.50" fill="#fff" stroke="#505050" stroke-width="0.7"/>
<line x1="307.00" y1="179.00" x2="319.50" y2="179.00" stroke="#0072bd" stroke-opacity="0.5" stroke-width="0.8"/>
<circle cx="313.30" cy="184.80" r="0.45" fill="#d95319"/>
<path d="M204.90,291.20v-1.5M204.90,172.00v1.5M230.13,291.20v-1.5M230.13,172.00v1.5M255.37,291.20v-1.5M255.37,172.00v1.5M280.60,291.20v-1.5M280.60,172.00v1.5M305.83,291.20v-1.5M305.83,172.00v1.5M331.07,291.20v-1.5M331.07,172.00v1.5M356.30,291.20v-1.5M356.30,172.00v1.5M204.90,291.20h1.5M356.30,291.20h-1.5M204.90,271.33h1.5M356.30,271.33h-1.5M204.90,251.47h1.5M356.30,251.47h-1.5M204.90,231.60h1.5M356.30,231.60h-1.5M204.90,211.73h1.5M356.30,211.73h-1.5M204.90,191.87h1.5M356.30,191.87h-1.5M204.90,172.00h1.5M356.30,172.00h-1.5" stroke="#505050" stroke-width="0.7" fill="none"/>
<rect x="204.90" y="172.00" width="151.40" height="119.20" fill="none" stroke="#505050" stroke-width="0.8"/>
<g clip-path="url(#cf)">
<polyline points="389.70,233.70 404.40,178.40 434.20,291.00 463.70,178.30 478.60,291.10 493.90,234.20 508.20,234.20" fill="none" stroke="#0072bd" stroke-opacity="0.45" stroke-width="0.65" stroke-linejoin="miter"/>
<ellipse cx="389.70" cy="264.70" rx="0.60" ry="0.5" fill="#d95319" fill-opacity="0.85"/>
<ellipse cx="412.90" cy="243.40" rx="0.60" ry="0.5" fill="#d95319" fill-opacity="0.85"/>
<ellipse cx="414.20" cy="241.60" rx="0.60" ry="0.5" fill="#d95319" fill-opacity="0.85"/>
<ellipse cx="424.80" cy="232.10" rx="0.60" ry="0.5" fill="#d95319" fill-opacity="0.85"/>
<ellipse cx="449.70" cy="221.70" rx="0.60" ry="0.5" fill="#d95319" fill-opacity="0.85"/>
<ellipse cx="466.30" cy="226.20" rx="0.60" ry="0.5" fill="#d95319" fill-opacity="0.85"/>
<ellipse cx="467.60" cy="227.60" rx="0.60" ry="0.5" fill="#d95319" fill-opacity="0.85"/>
<ellipse cx="495.40" cy="251.40" rx="0.60" ry="0.5" fill="#d95319" fill-opacity="0.85"/>
<ellipse cx="523.50" cy="274.30" rx="0.60" ry="0.5" fill="#d95319" fill-opacity="0.85"/>
</g>
<rect x="486.70" y="175.80" width="47.40" height="12.50" fill="#fff" stroke="#505050" stroke-width="0.7"/>
<line x1="488.30" y1="179.00" x2="500.80" y2="179.00" stroke="#0072bd" stroke-opacity="0.5" stroke-width="0.8"/>
<circle cx="494.60" cy="184.80" r="0.45" fill="#d95319"/>
<path d="M386.30,291.20v-1.5M386.30,172.00v1.5M424.12,291.20v-1.5M424.12,172.00v1.5M461.95,291.20v-1.5M461.95,172.00v1.5M499.78,291.20v-1.5M499.78,172.00v1.5M537.60,291.20v-1.5M537.60,172.00v1.5M386.30,291.20h1.5M537.60,291.20h-1.5M386.30,271.33h1.5M537.60,271.33h-1.5M386.30,251.47h1.5M537.60,251.47h-1.5M386.30,231.60h1.5M537.60,231.60h-1.5M386.30,211.73h1.5M537.60,211.73h-1.5M386.30,191.87h1.5M537.60,191.87h-1.5M386.30,172.00h1.5M537.60,172.00h-1.5" stroke="#505050" stroke-width="0.7" fill="none"/>
<rect x="386.30" y="172.00" width="151.30" height="119.20" fill="none" stroke="#505050" stroke-width="0.8"/>
<g class="t"><text x="140.60" y="19.30" font-size="4.9" fill="#222" stroke="#222" stroke-width="0.1">PDF</text>
<text x="140.60" y="25.10" font-size="4.9" fill="#222" stroke="#222" stroke-width="0.1">Gaussian curve</text>
<text x="23.80" y="137.21" font-size="5.5" text-anchor="middle" fill="#222" >0</text>
<text x="40.63" y="137.21" font-size="5.5" text-anchor="middle" fill="#222" >2</text>
<text x="57.47" y="137.21" font-size="5.5" text-anchor="middle" fill="#222" >4</text>
<text x="74.30" y="137.21" font-size="5.5" text-anchor="middle" fill="#222" >6</text>
<text x="91.13" y="137.21" font-size="5.5" text-anchor="middle" fill="#222" >8</text>
<text x="107.97" y="137.21" font-size="5.5" text-anchor="middle" fill="#222" >10</text>
<text x="124.80" y="137.21" font-size="5.5" text-anchor="middle" fill="#222" >12</text>
<text x="141.63" y="137.21" font-size="5.5" text-anchor="middle" fill="#222" >14</text>
<text x="158.47" y="137.21" font-size="5.5" text-anchor="middle" fill="#222" >16</text>
<text x="175.30" y="137.21" font-size="5.5" text-anchor="middle" fill="#222" >18</text>
<text x="21.50" y="132.11" font-size="5.5" text-anchor="end" fill="#222" >0</text>
<text x="21.50" y="120.21" font-size="5.5" text-anchor="end" fill="#222" >0.1</text>
<text x="21.50" y="108.31" font-size="5.5" text-anchor="end" fill="#222" >0.2</text>
<text x="21.50" y="96.41" font-size="5.5" text-anchor="end" fill="#222" >0.3</text>
<text x="21.50" y="84.51" font-size="5.5" text-anchor="end" fill="#222" >0.4</text>
<text x="21.50" y="72.61" font-size="5.5" text-anchor="end" fill="#222" >0.5</text>
<text x="21.50" y="60.71" font-size="5.5" text-anchor="end" fill="#222" >0.6</text>
<text x="21.50" y="48.82" font-size="5.5" text-anchor="end" fill="#222" >0.7</text>
<text x="21.50" y="36.91" font-size="5.5" text-anchor="end" fill="#222" >0.8</text>
<text x="21.50" y="25.01" font-size="5.5" text-anchor="end" fill="#222" >0.9</text>
<text x="21.50" y="13.12" font-size="5.5" text-anchor="end" fill="#222" >1</text>
<text x="99.55" y="144.35" font-size="6.0" text-anchor="middle" fill="#222" stroke="#222" stroke-width="0.05">Slope (°)</text>
<text transform="translate(12.80,70.20) rotate(-90)" font-size="6.0" text-anchor="middle" fill="#222" stroke="#222" stroke-width="0.05">Probability density function (PDF)</text>
<text x="94.55" y="160.30" font-size="9.6" font-weight="bold" text-anchor="middle" fill="#000">(a)</text>
<text x="321.60" y="19.30" font-size="4.9" fill="#222" stroke="#222" stroke-width="0.1">PDF</text>
<text x="321.60" y="25.10" font-size="4.9" fill="#222" stroke="#222" stroke-width="0.1">Gaussian curve</text>
<text x="204.90" y="137.21" font-size="5.5" text-anchor="middle" fill="#222" >0</text>
<text x="226.53" y="137.21" font-size="5.5" text-anchor="middle" fill="#222" >2</text>
<text x="248.16" y="137.21" font-size="5.5" text-anchor="middle" fill="#222" >4</text>
<text x="269.79" y="137.21" font-size="5.5" text-anchor="middle" fill="#222" >6</text>
<text x="291.41" y="137.21" font-size="5.5" text-anchor="middle" fill="#222" >8</text>
<text x="313.04" y="137.21" font-size="5.5" text-anchor="middle" fill="#222" >10</text>
<text x="334.67" y="137.21" font-size="5.5" text-anchor="middle" fill="#222" >12</text>
<text x="356.30" y="137.21" font-size="5.5" text-anchor="middle" fill="#222" >14</text>
<text x="202.60" y="132.11" font-size="5.5" text-anchor="end" fill="#222" >0</text>
<text x="202.60" y="112.28" font-size="5.5" text-anchor="end" fill="#222" >0.2</text>
<text x="202.60" y="92.45" font-size="5.5" text-anchor="end" fill="#222" >0.4</text>
<text x="202.60" y="72.61" font-size="5.5" text-anchor="end" fill="#222" >0.6</text>
<text x="202.60" y="52.78" font-size="5.5" text-anchor="end" fill="#222" >0.8</text>
<text x="202.60" y="32.95" font-size="5.5" text-anchor="end" fill="#222" >1</text>
<text x="202.60" y="13.12" font-size="5.5" text-anchor="end" fill="#222" >1.2</text>
<text x="280.60" y="144.35" font-size="6.0" text-anchor="middle" fill="#222" stroke="#222" stroke-width="0.05">Slope (°)</text>
<text transform="translate(193.90,70.20) rotate(-90)" font-size="6.0" text-anchor="middle" fill="#222" stroke="#222" stroke-width="0.05">Probability density function (PDF)</text>
<text x="275.60" y="160.30" font-size="9.6" font-weight="bold" text-anchor="middle" fill="#000">(b)</text>
<text x="502.90" y="19.30" font-size="4.9" fill="#222" stroke="#222" stroke-width="0.1">PDF</text>
<text x="502.90" y="25.10" font-size="4.9" fill="#222" stroke="#222" stroke-width="0.1">Gaussian curve</text>
<text x="386.30" y="137.21" font-size="5.5" text-anchor="middle" fill="#222" >0</text>
<text x="416.56" y="137.21" font-size="5.5" text-anchor="middle" fill="#222" >2</text>
<text x="446.82" y="137.21" font-size="5.5" text-anchor="middle" fill="#222" >4</text>
<text x="477.08" y="137.21" font-size="5.5" text-anchor="middle" fill="#222" >6</text>
<text x="507.34" y="137.21" font-size="5.5" text-anchor="middle" fill="#222" >8</text>
<text x="537.60" y="137.21" font-size="5.5" text-anchor="middle" fill="#222" >10</text>
<text x="384.00" y="132.11" font-size="5.5" text-anchor="end" fill="#222" >0</text>
<text x="384.00" y="120.21" font-size="5.5" text-anchor="end" fill="#222" >0.2</text>
<text x="384.00" y="108.31" font-size="5.5" text-anchor="end" fill="#222" >0.4</text>
<text x="384.00" y="96.41" font-size="5.5" text-anchor="end" fill="#222" >0.6</text>
<text x="384.00" y="84.51" font-size="5.5" text-anchor="end" fill="#222" >0.8</text>
<text x="384.00" y="72.61" font-size="5.5" text-anchor="end" fill="#222" >1</text>
<text x="384.00" y="60.71" font-size="5.5" text-anchor="end" fill="#222" >1.2</text>
<text x="384.00" y="48.82" font-size="5.5" text-anchor="end" fill="#222" >1.4</text>
<text x="384.00" y="36.91" font-size="5.5" text-anchor="end" fill="#222" >1.6</text>
<text x="384.00" y="25.01" font-size="5.5" text-anchor="end" fill="#222" >1.8</text>
<text x="384.00" y="13.12" font-size="5.5" text-anchor="end" fill="#222" >2</text>
<text x="461.95" y="144.35" font-size="6.0" text-anchor="middle" fill="#222" stroke="#222" stroke-width="0.05">Slope (°)</text>
<text transform="translate(375.30,70.20) rotate(-90)" font-size="6.0" text-anchor="middle" fill="#222" stroke="#222" stroke-width="0.05">Probability density function (PDF)</text>
<text x="456.95" y="160.30" font-size="9.6" font-weight="bold" text-anchor="middle" fill="#000">(c)</text>
<text x="140.60" y="180.60" font-size="4.9" fill="#222" stroke="#222" stroke-width="0.1">PDF</text>
<text x="140.60" y="186.40" font-size="4.9" fill="#222" stroke="#222" stroke-width="0.1">Gaussian curve</text>
<text x="23.80" y="298.71" font-size="5.5" text-anchor="middle" fill="#222" >0</text>
<text x="49.05" y="298.71" font-size="5.5" text-anchor="middle" fill="#222" >0.5</text>
<text x="74.30" y="298.71" font-size="5.5" text-anchor="middle" fill="#222" >1</text>
<text x="99.55" y="298.71" font-size="5.5" text-anchor="middle" fill="#222" >1.5</text>
<text x="124.80" y="298.71" font-size="5.5" text-anchor="middle" fill="#222" >2</text>
<text x="150.05" y="298.71" font-size="5.5" text-anchor="middle" fill="#222" >2.5</text>
<text x="175.30" y="298.71" font-size="5.5" text-anchor="middle" fill="#222" >3</text>
<text x="21.50" y="293.62" font-size="5.5" text-anchor="end" fill="#222" >0</text>
<text x="21.50" y="276.59" font-size="5.5" text-anchor="end" fill="#222" >0.5</text>
<text x="21.50" y="259.56" font-size="5.5" text-anchor="end" fill="#222" >1</text>
<text x="21.50" y="242.53" font-size="5.5" text-anchor="end" fill="#222" >1.5</text>
<text x="21.50" y="225.50" font-size="5.5" text-anchor="end" fill="#222" >2</text>
<text x="21.50" y="208.47" font-size="5.5" text-anchor="end" fill="#222" >2.5</text>
<text x="21.50" y="191.44" font-size="5.5" text-anchor="end" fill="#222" >3</text>
<text x="21.50" y="174.41" font-size="5.5" text-anchor="end" fill="#222" >3.5</text>
<text x="99.55" y="305.85" font-size="6.0" text-anchor="middle" fill="#222" stroke="#222" stroke-width="0.05">Slope (°)</text>
<text transform="translate(12.80,231.60) rotate(-90)" font-size="6.0" text-anchor="middle" fill="#222" stroke="#222" stroke-width="0.05">Probability density function (PDF)</text>
<text x="94.55" y="321.80" font-size="9.6" font-weight="bold" text-anchor="middle" fill="#000">(d)</text>
<text x="321.60" y="180.60" font-size="4.9" fill="#222" stroke="#222" stroke-width="0.1">PDF</text>
<text x="321.60" y="186.40" font-size="4.9" fill="#222" stroke="#222" stroke-width="0.1">Gaussian curve</text>
<text x="204.90" y="298.71" font-size="5.5" text-anchor="middle" fill="#222" >0.1</text>
<text x="230.13" y="298.71" font-size="5.5" text-anchor="middle" fill="#222" >0.2</text>
<text x="255.37" y="298.71" font-size="5.5" text-anchor="middle" fill="#222" >0.3</text>
<text x="280.60" y="298.71" font-size="5.5" text-anchor="middle" fill="#222" >0.4</text>
<text x="305.83" y="298.71" font-size="5.5" text-anchor="middle" fill="#222" >0.5</text>
<text x="331.07" y="298.71" font-size="5.5" text-anchor="middle" fill="#222" >0.6</text>
<text x="356.30" y="298.71" font-size="5.5" text-anchor="middle" fill="#222" >0.7</text>
<text x="202.60" y="293.62" font-size="5.5" text-anchor="end" fill="#222" >0</text>
<text x="202.60" y="273.75" font-size="5.5" text-anchor="end" fill="#222" >1</text>
<text x="202.60" y="253.88" font-size="5.5" text-anchor="end" fill="#222" >2</text>
<text x="202.60" y="234.01" font-size="5.5" text-anchor="end" fill="#222" >3</text>
<text x="202.60" y="214.15" font-size="5.5" text-anchor="end" fill="#222" >4</text>
<text x="202.60" y="194.28" font-size="5.5" text-anchor="end" fill="#222" >5</text>
<text x="202.60" y="174.41" font-size="5.5" text-anchor="end" fill="#222" >6</text>
<text x="280.60" y="305.85" font-size="6.0" text-anchor="middle" fill="#222" stroke="#222" stroke-width="0.05">Slope (°)</text>
<text transform="translate(198.30,231.60) rotate(-90)" font-size="6.0" text-anchor="middle" fill="#222" stroke="#222" stroke-width="0.05">Probability density function (PDF)</text>
<text x="275.60" y="321.80" font-size="9.6" font-weight="bold" text-anchor="middle" fill="#000">(e)</text>
<text x="502.90" y="180.60" font-size="4.9" fill="#222" stroke="#222" stroke-width="0.1">PDF</text>
<text x="502.90" y="186.40" font-size="4.9" fill="#222" stroke="#222" stroke-width="0.1">Gaussian curve</text>
<text x="386.30" y="298.71" font-size="5.5" text-anchor="middle" fill="#222" >0.25</text>
<text x="424.12" y="298.71" font-size="5.5" text-anchor="middle" fill="#222" >0.3</text>
<text x="461.95" y="298.71" font-size="5.5" text-anchor="middle" fill="#222" >0.35</text>
<text x="499.78" y="298.71" font-size="5.5" text-anchor="middle" fill="#222" >0.4</text>
<text x="537.60" y="298.71" font-size="5.5" text-anchor="middle" fill="#222" >0.45</text>
<text x="384.00" y="293.62" font-size="5.5" text-anchor="end" fill="#222" >0</text>
<text x="384.00" y="273.75" font-size="5.5" text-anchor="end" fill="#222" >2</text>
<text x="384.00" y="253.88" font-size="5.5" text-anchor="end" fill="#222" >4</text>
<text x="384.00" y="234.01" font-size="5.5" text-anchor="end" fill="#222" >6</text>
<text x="384.00" y="214.15" font-size="5.5" text-anchor="end" fill="#222" >8</text>
<text x="384.00" y="194.28" font-size="5.5" text-anchor="end" fill="#222" >10</text>
<text x="384.00" y="174.41" font-size="5.5" text-anchor="end" fill="#222" >12</text>
<text x="461.95" y="305.85" font-size="6.0" text-anchor="middle" fill="#222" stroke="#222" stroke-width="0.05">Slope (°)</text>
<text transform="translate(377.40,231.60) rotate(-90)" font-size="6.0" text-anchor="middle" fill="#222" stroke="#222" stroke-width="0.05">Probability density function (PDF)</text>
<text x="456.95" y="321.80" font-size="9.6" font-weight="bold" text-anchor="middle" fill="#000">(f)</text></g>
</svg></body></html>
